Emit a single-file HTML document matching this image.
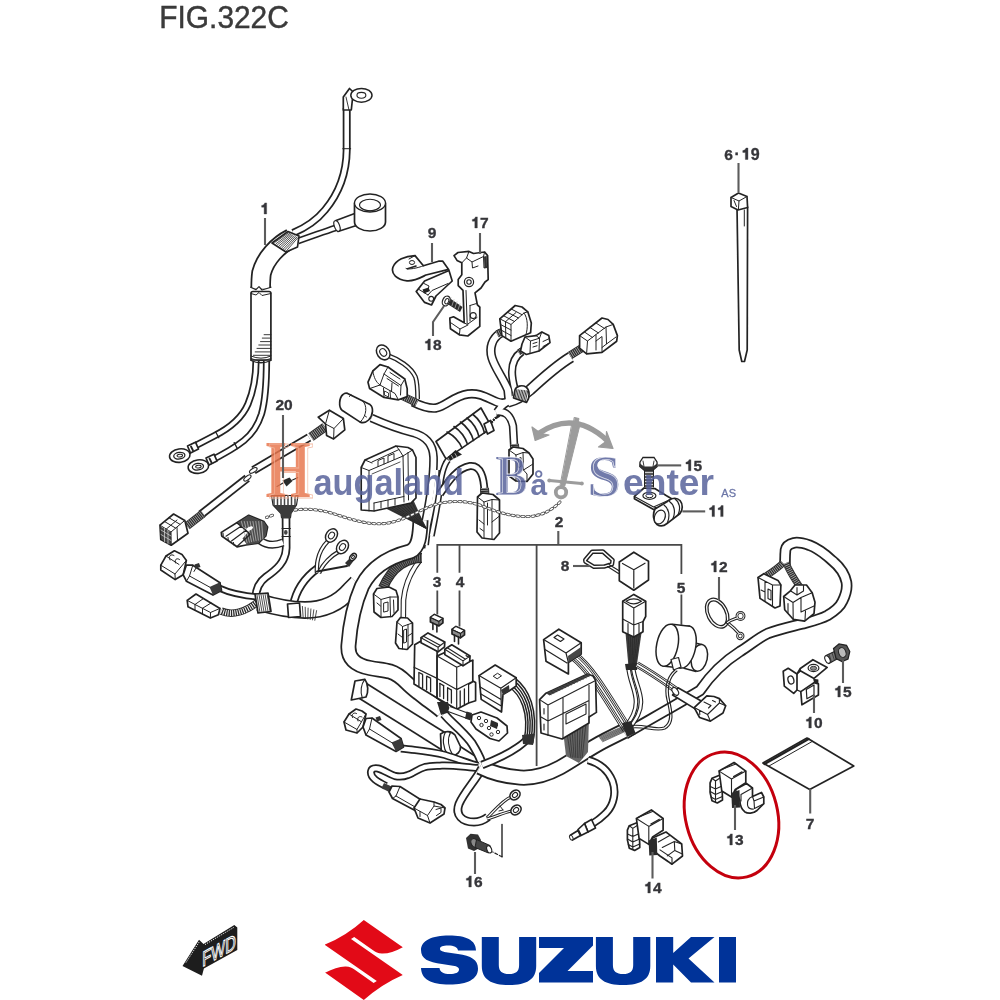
<!DOCTYPE html>
<html><head><meta charset="utf-8"><title>FIG.322C</title>
<style>
html,body{margin:0;padding:0;background:#fff;}
body{width:1000px;height:1000px;overflow:hidden;font-family:"Liberation Sans",sans-serif;}
svg{display:block}
.lb{font-family:"Liberation Sans",sans-serif;font-weight:bold;fill:#36363a;stroke:#36363a;stroke-width:0.35px;}
</style></head><body>
<svg width="1000" height="1000" viewBox="0 0 1000 1000">
<defs><filter id="soft" filterUnits="userSpaceOnUse" x="0" y="0" width="1000" height="1000"><feGaussianBlur stdDeviation="0.45"/></filter>
<filter id="soft2" filterUnits="userSpaceOnUse" x="0" y="0" width="1000" height="1000"><feGaussianBlur stdDeviation="0.35"/></filter></defs>
<rect width="1000" height="1000" fill="#fff"/>
<g filter="url(#soft)">
<path d="M436,441.5 L481,408 L492,427.6 L446,458.9 Z" fill="#fff" stroke="#242424" stroke-width="1.7" stroke-linejoin="round" stroke-linecap="round" />
<path d="M447,432 Q457.7,437.8 462,448" fill="none" stroke="#242424" stroke-width="1.6" stroke-linecap="round" stroke-linejoin="round" />
<path d="M454,426.5 Q463.9,433.2 467.5,444.3" fill="none" stroke="#242424" stroke-width="1.6" stroke-linecap="round" stroke-linejoin="round" />
<path d="M460.5,422 Q470.2,429.1 473.5,440.5" fill="none" stroke="#242424" stroke-width="1.6" stroke-linecap="round" stroke-linejoin="round" />
<path d="M467,418 Q476.2,425.2 479,436.8" fill="none" stroke="#242424" stroke-width="1.6" stroke-linecap="round" stroke-linejoin="round" />
<path d="M473,414.5 Q481.9,421.6 484.5,433" fill="none" stroke="#242424" stroke-width="1.6" stroke-linecap="round" stroke-linejoin="round" />
<path d="M484,424 L490.5,420.5 L494,430.5 L487.5,434 Z" fill="#fff" stroke="#242424" stroke-width="1.7" stroke-linejoin="round" stroke-linecap="round" />
<path d="M491.5,422.5 L495,418.5 L499,416" fill="none" stroke="#242424" stroke-width="2.4" stroke-linecap="round" stroke-linejoin="round" />
<path d="M492,420 L494.5,422.5 M494,418 L496.5,420.5" fill="none" stroke="#fff" stroke-width="0.9" stroke-linecap="round" stroke-linejoin="round" />
<path d="M455.5,450 L462,454.5 L455,458 L444.5,464 L443,461.5 Z" fill="#222"/>
<path d="M448,458 L450,461.5 M451.5,455.5 L453.5,459 M455,453.5 L457,457" fill="none" stroke="#ccc" stroke-width="0.8" stroke-linecap="round" stroke-linejoin="round" />
<path d="M501,333 C492,338 489,348 492,358 C495,368 503,378 508,390 L509,400" fill="none" stroke="#242424" stroke-width="9.4" stroke-linecap="butt" stroke-linejoin="round"/>
<path d="M522,351.5 C514,357 512,364 512,372 C512,380 514,386 515.5,392 L515,400" fill="none" stroke="#242424" stroke-width="8.2" stroke-linecap="butt" stroke-linejoin="round"/>
<path d="M571,357 C556,366 543,378 530,390 C523,396 516,400 508,402" fill="none" stroke="#242424" stroke-width="11.5" stroke-linecap="butt" stroke-linejoin="round"/>
<path d="M496,412 C505,410.5 510.5,415 513,426 L514.2,447" fill="none" stroke="#242424" stroke-width="8.4" stroke-linecap="butt" stroke-linejoin="round"/>
<path d="M413,402 C421,406 428,409 436,408 C446,406 454,396 468,394 C480,392.5 487,398 497,402 C502,404 506,403 510,401" fill="none" stroke="#242424" stroke-width="9.4" stroke-linecap="butt" stroke-linejoin="round"/>
<path d="M508,401 L500,408 L497,412" fill="none" stroke="#242424" stroke-width="8.4" stroke-linecap="butt" stroke-linejoin="round"/>
<path d="M501,333 C492,338 489,348 492,358 C495,368 503,378 508,390 L509,400" fill="none" stroke="#fff" stroke-width="6.2" stroke-linecap="butt" stroke-linejoin="round"/>
<path d="M522,351.5 C514,357 512,364 512,372 C512,380 514,386 515.5,392 L515,400" fill="none" stroke="#fff" stroke-width="4.999999999999999" stroke-linecap="butt" stroke-linejoin="round"/>
<path d="M571,357 C556,366 543,378 530,390 C523,396 516,400 508,402" fill="none" stroke="#fff" stroke-width="8.3" stroke-linecap="butt" stroke-linejoin="round"/>
<path d="M496,412 C505,410.5 510.5,415 513,426 L514.2,447" fill="none" stroke="#fff" stroke-width="5.2" stroke-linecap="butt" stroke-linejoin="round"/>
<path d="M413,402 C421,406 428,409 436,408 C446,406 454,396 468,394 C480,392.5 487,398 497,402 C502,404 506,403 510,401" fill="none" stroke="#fff" stroke-width="6.2" stroke-linecap="butt" stroke-linejoin="round"/>
<path d="M508,401 L500,408 L497,412" fill="none" stroke="#fff" stroke-width="5.2" stroke-linecap="butt" stroke-linejoin="round"/>
<path d="M515,390 C516,386 522,384.5 526,387 C530,390 530,398 526.5,402.5 L513.5,398 Z" fill="#fff" stroke="#242424" stroke-width="1.7" stroke-linejoin="round" stroke-linecap="round" />
<path d="M516.8,389.6 L515.2,397.8 M518.3,389.8 L516.7,398.3 M519.9,390.0 L518.1,398.9 M521.5,390.2 L519.5,399.5 M523.0,390.3 L521.0,400.0 M524.6,390.5 L522.4,400.6 M526.2,390.7 L523.8,401.2 M527.7,390.9 L525.3,401.7 " fill="none" stroke="#242424" stroke-width="0.9" stroke-linecap="round" stroke-linejoin="round" />
<path d="M388,355.5 C398,359 411,367 415.5,377 C417.5,383 417.6,390 417.6,399" fill="none" stroke="#242424" stroke-width="4.8" stroke-linecap="butt" stroke-linejoin="round"/>
<path d="M388,355.5 C398,359 411,367 415.5,377 C417.5,383 417.6,390 417.6,399" fill="none" stroke="#fff" stroke-width="2.1999999999999997" stroke-linecap="butt" stroke-linejoin="round"/>
<g transform="rotate(-35 383.2 352.4)"><ellipse cx="383.2" cy="352.4" rx="6.2" ry="8" fill="#fff" stroke="#242424" stroke-width="1.5"/><ellipse cx="383.2" cy="352.4" rx="3.10" ry="4.00" fill="#fff" stroke="#242424" stroke-width="1.1"/></g>
<path d="M448,460 C443,466 441,476 439.5,490 C438,505 434.5,520 431.5,536" fill="none" stroke="#242424" stroke-width="6.6" stroke-linecap="butt" stroke-linejoin="round"/>
<path d="M371.5,418 C385,424 398,429 412,432.5 C426,436 433,444 433.5,457 C434,475 430,500 425.5,522 C424,532 422,540 421,548" fill="none" stroke="#242424" stroke-width="8.8" stroke-linecap="butt" stroke-linejoin="round"/>
<path d="M437,470 C436.5,485 433,505 428.5,525 L426,545" fill="none" stroke="#242424" stroke-width="6" stroke-linecap="butt" stroke-linejoin="round"/>
<path d="M448,460 C443,466 441,476 439.5,490 C438,505 434.5,520 431.5,536" fill="none" stroke="#fff" stroke-width="3.3999999999999995" stroke-linecap="butt" stroke-linejoin="round"/>
<path d="M371.5,418 C385,424 398,429 412,432.5 C426,436 433,444 433.5,457 C434,475 430,500 425.5,522 C424,532 422,540 421,548" fill="none" stroke="#fff" stroke-width="5.6000000000000005" stroke-linecap="butt" stroke-linejoin="round"/>
<path d="M437,470 C436.5,485 433,505 428.5,525 L426,545" fill="none" stroke="#fff" stroke-width="2.8" stroke-linecap="butt" stroke-linejoin="round"/>
<path d="M440,494 C448,482 457,468 470,466 C481,465 484,478 484.5,492" fill="none" stroke="#242424" stroke-width="8" stroke-linecap="butt" stroke-linejoin="round"/>
<path d="M440,494 C448,482 457,468 470,466 C481,465 484,478 484.5,492" fill="none" stroke="#fff" stroke-width="4.5" stroke-linecap="butt" stroke-linejoin="round"/>
<path d="M201,514.5 L247.2,478.2" fill="none" stroke="#242424" stroke-width="8.6" stroke-linecap="butt" stroke-linejoin="round"/>
<path d="M201,514.5 L247.2,478.2" fill="none" stroke="#fff" stroke-width="5.1" stroke-linecap="butt" stroke-linejoin="round"/>
<path d="M253.5,470.3 L309,437.5" fill="none" stroke="#242424" stroke-width="8.6" stroke-linecap="butt" stroke-linejoin="round"/>
<path d="M253.5,470.3 L309,437.5" fill="none" stroke="#fff" stroke-width="5.1" stroke-linecap="butt" stroke-linejoin="round"/>
<ellipse cx="247.4" cy="478" rx="1.9" ry="4.3" transform="rotate(52 247.4 478)" fill="#fff" stroke="#242424" stroke-width="1.1"/>
<ellipse cx="253.3" cy="470.4" rx="1.9" ry="4.3" transform="rotate(58 253.3 470.4)" fill="#fff" stroke="#242424" stroke-width="1.1"/>
<path d="M286,512 L286.2,548 C286,562 276,570 266,577 C259,582 256,590 255.5,598" fill="none" stroke="#242424" stroke-width="8.6" stroke-linecap="butt" stroke-linejoin="round"/>
<path d="M286,512 L286.2,548 C286,562 276,570 266,577 C259,582 256,590 255.5,598" fill="none" stroke="#fff" stroke-width="5.1" stroke-linecap="butt" stroke-linejoin="round"/>
<path d="M282,528.5 H290.4 M282,536.5 H290.4" fill="none" stroke="#242424" stroke-width="1.1" stroke-linecap="round" stroke-linejoin="round" />
<ellipse cx="285.8" cy="532.4" rx="1.8" ry="2.4" fill="#444"/>
<path d="M260,540.5 C266,545 274,546 283,542.5" fill="none" stroke="#242424" stroke-width="8" stroke-linecap="butt" stroke-linejoin="round"/>
<path d="M260,540.5 C266,545 274,546 283,542.5" fill="none" stroke="#fff" stroke-width="5.2" stroke-linecap="butt" stroke-linejoin="round"/>
<path d="M219,588 C232,594 245,596 258,597" fill="none" stroke="#242424" stroke-width="7" stroke-linecap="butt" stroke-linejoin="round"/>
<path d="M219,588 C232,594 245,596 258,597" fill="none" stroke="#fff" stroke-width="3.5" stroke-linecap="butt" stroke-linejoin="round"/>
<path d="M221,611 C232,616 246,612 259,601" fill="none" stroke="#2b2b2b" stroke-width="7.5"/>
<path d="M221,611 C232,616 246,612 259,601" fill="none" stroke="#fff" stroke-width="5.6" stroke-dasharray="1 1.3"/>
<path d="M293,606 C296,590 304,578 318,568" fill="none" stroke="#242424" stroke-width="8.4" stroke-linecap="butt" stroke-linejoin="round"/>
<path d="M293,606 C296,590 304,578 318,568" fill="none" stroke="#fff" stroke-width="4.9" stroke-linecap="butt" stroke-linejoin="round"/>
<path d="M317,573 C316,560 320,549 328,541" fill="none" stroke="#242424" stroke-width="4.4" stroke-linecap="butt" stroke-linejoin="round"/>
<path d="M317,573 C316,560 320,549 328,541" fill="none" stroke="#fff" stroke-width="2.0000000000000004" stroke-linecap="butt" stroke-linejoin="round"/>
<path d="M319,573 C323,564 331,556 339,551.5" fill="none" stroke="#242424" stroke-width="4.4" stroke-linecap="butt" stroke-linejoin="round"/>
<path d="M319,573 C323,564 331,556 339,551.5" fill="none" stroke="#fff" stroke-width="2.0000000000000004" stroke-linecap="butt" stroke-linejoin="round"/>
<path d="M317,571.5 L347,566" fill="none" stroke="#242424" stroke-width="2.2" stroke-linecap="round" stroke-linejoin="round" />
<g transform="rotate(35 331.5 535.5)"><ellipse cx="331.5" cy="535.5" rx="5.4" ry="7.2" fill="#fff" stroke="#242424" stroke-width="1.5"/><ellipse cx="331.5" cy="535.5" rx="2.70" ry="3.60" fill="#fff" stroke="#242424" stroke-width="1.1"/></g>
<g transform="rotate(35 342.5 547)"><ellipse cx="342.5" cy="547" rx="5.4" ry="7.2" fill="#fff" stroke="#242424" stroke-width="1.5"/><ellipse cx="342.5" cy="547" rx="2.70" ry="3.60" fill="#fff" stroke="#242424" stroke-width="1.1"/></g>
<path d="M345,563 L352,556 L355,559 L349,567 Z" fill="#333"/>
<g transform="rotate(40 353 557)"><ellipse cx="353" cy="557" rx="2.6" ry="4" fill="#fff" stroke="#242424" stroke-width="1.5"/><ellipse cx="353" cy="557" rx="1.17" ry="1.80" fill="#fff" stroke="#242424" stroke-width="1.1"/></g>
<path d="M259,602 C272,606 288,610 305,610 C322,610 338,604 350,590 L357,583" fill="none" stroke="#242424" stroke-width="18" stroke-linecap="butt" stroke-linejoin="round"/>
<path d="M259,602 C272,606 288,610 305,610 C322,610 338,604 350,590 L357,583" fill="none" stroke="#fff" stroke-width="14.5" stroke-linecap="butt" stroke-linejoin="round"/>
<path d="M255,594 L268,593 L271,611.5 L258,613 Z" fill="#fff" stroke="#242424" stroke-width="1.7" stroke-linejoin="round" stroke-linecap="round" />
<path d="M257.0,594.9 L260.0,612.4 M259.0,594.6 L262.0,612.1 M261.0,594.4 L264.0,611.9 M263.0,594.1 L266.0,611.6 M265.0,593.9 L268.0,611.4 M267.0,593.6 L270.0,611.1 " fill="none" stroke="#242424" stroke-width="0.8" stroke-linecap="round" stroke-linejoin="round" />
<path d="M287.5,604 L299.5,603 L300.5,616.5 L288.5,617.5 Z" fill="#fff" stroke="#242424" stroke-width="1.7" stroke-linejoin="round" stroke-linecap="round" />
<path d="M302.4,606.4 L303.2,618.2 M305.2,607.2 L305.5,618.6 M308.1,608.1 L307.8,619.0 M310.9,608.9 L310.2,619.5 M313.8,609.8 L312.5,619.9 M316.6,610.6 L314.8,620.3 " fill="none" stroke="#242424" stroke-width="0.8" stroke-linecap="round" stroke-linejoin="round" />
<path d="M420,560 C412,570 405,584 403.5,600 L403.3,618" fill="none" stroke="#242424" stroke-width="5.6" stroke-linecap="butt" stroke-linejoin="round"/>
<path d="M420,560 C412,570 405,584 403.5,600 L403.3,618" fill="none" stroke="#fff" stroke-width="3.3999999999999995" stroke-linecap="butt" stroke-linejoin="round"/>
<path d="M422,558 C408,558 392,566 383,588" fill="none" stroke="#2b2b2b" stroke-width="10"/>
<path d="M422,558 C408,558 392,566 383,588" fill="none" stroke="#777" stroke-width="7.6" stroke-dasharray="0.9 1.1"/>
<path d="M450,746 L479,764.5" fill="none" stroke="#242424" stroke-width="12" stroke-linecap="butt" stroke-linejoin="round"/>
<path d="M450,746 L479,764.5" fill="none" stroke="#fff" stroke-width="8.5" stroke-linecap="butt" stroke-linejoin="round"/>
<path d="M359,688.5 L447,743.5" fill="none" stroke="#242424" stroke-width="18" stroke-linecap="butt" stroke-linejoin="round"/>
<path d="M359,688.5 L447,743.5" fill="none" stroke="#fff" stroke-width="14.5" stroke-linecap="butt" stroke-linejoin="round"/>
<path d="M355,681 L364.8,679.3 C368.5,684 368.5,692.5 366,697 L351.3,700 Z" fill="#fff" stroke="#242424" stroke-width="1.7" stroke-linejoin="round" stroke-linecap="round" />
<path d="M364.8,679.3 C361,684 360,692 362.3,698" fill="none" stroke="#242424" stroke-width="1.1" stroke-linecap="round" stroke-linejoin="round" />
<path d="M440.5,734 C445,730.5 451.5,731 455,735 L460.5,746.5 C461,751.5 457,755.5 452,756 C447,756.5 443,753.5 441.2,749.5 Z" fill="#fff" stroke="#242424" stroke-width="1.7" stroke-linejoin="round" stroke-linecap="round" />
<path d="M445.5,732 C442,738.5 442.8,747.5 447.8,755 M450.7,732 C447.2,738.5 448,747.5 453,755.5" fill="none" stroke="#242424" stroke-width="1.2" stroke-linecap="round" stroke-linejoin="round" />
<path d="M444,714 C450,721 455,725 459,729 C465,735 469,739 472,743.5 C476,750 479,755 481,761" fill="none" stroke="#242424" stroke-width="9.5" stroke-linecap="butt" stroke-linejoin="round"/>
<path d="M444,714 C450,721 455,725 459,729 C465,735 469,739 472,743.5 C476,750 479,755 481,761" fill="none" stroke="#fff" stroke-width="6.0" stroke-linecap="butt" stroke-linejoin="round"/>
<path d="M420.5,520 C420,535 419,548 410,551.5 C392,556 372,566 362,586 C355,602 350,625 348.5,645 C347.5,658 355,665 370,668 C378,669.5 384,670 390,671.5 C397,673.5 402,678 407,683 C413,689 419,693.5 425,698 C431,702.5 436,706 442,711" fill="none" stroke="#242424" stroke-width="16" stroke-linecap="butt" stroke-linejoin="round"/>
<path d="M420.5,520 C420,535 419,548 410,551.5 C392,556 372,566 362,586 C355,602 350,625 348.5,645 C347.5,658 355,665 370,668 C378,669.5 384,670 390,671.5 C397,673.5 402,678 407,683 C413,689 419,693.5 425,698 C431,702.5 436,706 442,711" fill="none" stroke="#fff" stroke-width="12.5" stroke-linecap="butt" stroke-linejoin="round"/>
<path d="M401,748.5 C415,750 430,751 445,755 C458,759 468,763 478,766" fill="none" stroke="#242424" stroke-width="8" stroke-linecap="butt" stroke-linejoin="round"/>
<path d="M401,748.5 C415,750 430,751 445,755 C458,759 468,763 478,766" fill="none" stroke="#fff" stroke-width="4.5" stroke-linecap="butt" stroke-linejoin="round"/>
<path d="M478,768 C465,767 452,765 442,765.5 C434,766 430,766 425,767 C418,769 414,773 408,775 C403,777 399,777 395,776 C389,774 384,770 378,768.5 C374,768 371.5,769 371,771.5 C370.5,775 372,777 375,779.5 C378,782 381,783.5 386,786" fill="none" stroke="#242424" stroke-width="8" stroke-linecap="butt" stroke-linejoin="round"/>
<path d="M478,768 C465,767 452,765 442,765.5 C434,766 430,766 425,767 C418,769 414,773 408,775 C403,777 399,777 395,776 C389,774 384,770 378,768.5 C374,768 371.5,769 371,771.5 C370.5,775 372,777 375,779.5 C378,782 381,783.5 386,786" fill="none" stroke="#fff" stroke-width="4.5" stroke-linecap="butt" stroke-linejoin="round"/>
<path d="M482,768 C476,780 464,792 459,804 C455,815 462,822 474,822 C480,822 484,820 488,817" fill="none" stroke="#242424" stroke-width="9" stroke-linecap="butt" stroke-linejoin="round"/>
<path d="M482,768 C476,780 464,792 459,804 C455,815 462,822 474,822 C480,822 484,820 488,817" fill="none" stroke="#fff" stroke-width="5.5" stroke-linecap="butt" stroke-linejoin="round"/>
<path d="M487,818 C495,810 503,800 511,797" fill="none" stroke="#242424" stroke-width="3.2" stroke-linecap="butt" stroke-linejoin="round"/>
<path d="M487,818 C495,810 503,800 511,797" fill="none" stroke="#fff" stroke-width="1.2000000000000002" stroke-linecap="butt" stroke-linejoin="round"/>
<path d="M487,819 C497,816 505,812 512,811" fill="none" stroke="#242424" stroke-width="3.2" stroke-linecap="butt" stroke-linejoin="round"/>
<path d="M487,819 C497,816 505,812 512,811" fill="none" stroke="#fff" stroke-width="1.2000000000000002" stroke-linecap="butt" stroke-linejoin="round"/>
<g transform="rotate(50 515 795)"><ellipse cx="515" cy="795" rx="4.4" ry="5.6" fill="#fff" stroke="#242424" stroke-width="1.5"/><ellipse cx="515" cy="795" rx="2.20" ry="2.80" fill="#fff" stroke="#242424" stroke-width="1.1"/></g>
<g transform="rotate(50 516 810)"><ellipse cx="516" cy="810" rx="4.4" ry="5.6" fill="#fff" stroke="#242424" stroke-width="1.5"/><ellipse cx="516" cy="810" rx="2.20" ry="2.80" fill="#fff" stroke="#242424" stroke-width="1.1"/></g>
<path d="M480,767 C490,772 505,776.5 520,777.5 C535,778.5 548,774 560,767.5 C575,759 590,748 606,740 L632,727" fill="none" stroke="#242424" stroke-width="16" stroke-linecap="butt" stroke-linejoin="round"/>
<path d="M480,767 C490,772 505,776.5 520,777.5 C535,778.5 548,774 560,767.5 C575,759 590,748 606,740 L632,727" fill="none" stroke="#fff" stroke-width="12.5" stroke-linecap="butt" stroke-linejoin="round"/>
<path d="M482,765 C495,760 508,754 518,747 C523,743.5 526,741 528,738" fill="none" stroke="#242424" stroke-width="8.4" stroke-linecap="butt" stroke-linejoin="round"/>
<path d="M482,765 C495,760 508,754 518,747 C523,743.5 526,741 528,738" fill="none" stroke="#fff" stroke-width="4.9" stroke-linecap="butt" stroke-linejoin="round"/>
<path d="M625,734 C650,719.5 675,705.5 700,690.5 C712,673 725,661 740,651.5 C750,645.5 758,638 767.5,633.6 C780,629 790,627 801.7,624 C811,621.5 820,619.5 827.4,615.5 C835,611 840,607 842.6,601 C846,594 847.5,588 846.4,582 C844.5,573 839,566 832,560.4 C825,554 818,548.5 809.4,545.2 C803,543 798,542 794,542.8 C789,544 786,547 785.5,550 C785,555 785,560 785,565" fill="none" stroke="#242424" stroke-width="11.5" stroke-linecap="butt" stroke-linejoin="round"/>
<path d="M625,734 C650,719.5 675,705.5 700,690.5 C712,673 725,661 740,651.5 C750,645.5 758,638 767.5,633.6 C780,629 790,627 801.7,624 C811,621.5 820,619.5 827.4,615.5 C835,611 840,607 842.6,601 C846,594 847.5,588 846.4,582 C844.5,573 839,566 832,560.4 C825,554 818,548.5 809.4,545.2 C803,543 798,542 794,542.8 C789,544 786,547 785.5,550 C785,555 785,560 785,565" fill="none" stroke="#fff" stroke-width="8.0" stroke-linecap="butt" stroke-linejoin="round"/>
<path d="M588,760 C599,763 608,770 612.5,781 C616.5,792 614,805 606,813 C602,817 597,821 592,824" fill="none" stroke="#242424" stroke-width="8.2" stroke-linecap="butt" stroke-linejoin="round"/>
<path d="M588,760 C599,763 608,770 612.5,781 C616.5,792 614,805 606,813 C602,817 597,821 592,824" fill="none" stroke="#fff" stroke-width="4.699999999999999" stroke-linecap="butt" stroke-linejoin="round"/>
<path d="M497,334 L503,331" fill="none" stroke="#2b2b2b" stroke-width="7"/>
<path d="M497,334 L503,331" fill="none" stroke="#aaa" stroke-width="5.4" stroke-dasharray="0.8 1.2"/>
<path d="M499.8,318.8 L515.2,305.5 L522,307 L527.8,311.8 L531.3,323 L530.6,332.8 L511,341.2 L501.9,335.6 Z" fill="#fff" stroke="#242424" stroke-width="1.7" stroke-linejoin="round" stroke-linecap="round" />
<path d="M499.8,318.8 L511,324.5 L511,341.2 M511,324.5 L524,313 L527.8,311.8 M503.5,315.7 L514.5,321.5 M507.5,312.3 L518.5,318 M511.3,309 L522,314.7 M505.5,321.7 L516,312.5 M500.5,324.5 L511,330 M501,330 L511,335.5 M505.5,321.7 L505.8,338 M524,313 C528,318 528,328 526,334.5" fill="none" stroke="#242424" stroke-width="1" stroke-linecap="round" stroke-linejoin="round" />
<path d="M518.5,352.5 L524,349" fill="none" stroke="#2b2b2b" stroke-width="6"/>
<path d="M518.5,352.5 L524,349" fill="none" stroke="#aaa" stroke-width="4.4" stroke-dasharray="0.8 1.2"/>
<path d="M522,344 L525,337 L536,335.6 L541.8,332 L548.8,335.6 L550,342.6 L539,351 L526.4,354.5 L520.5,351 Z" fill="#fff" stroke="#242424" stroke-width="1.7" stroke-linejoin="round" stroke-linecap="round" />
<path d="M525,337 L530.5,341 L530,353.3 M530.5,341 L539.5,338.2 L539,351 M539.5,338.2 L541.8,332 M536,335.6 L539.5,338.2 M543,341.5 L549.5,338.5 M543,346.5 L548,343.8 M533,343.5 L537,342.3 M533,347 L537,345.8" fill="none" stroke="#242424" stroke-width="1" stroke-linecap="round" stroke-linejoin="round" />
<path d="M570,355.5 L582,348" fill="none" stroke="#2b2b2b" stroke-width="8"/>
<path d="M570,355.5 L582,348" fill="none" stroke="#aaa" stroke-width="6.4" stroke-dasharray="0.8 1.2"/>
<path d="M579.6,335.6 L602,318 L608,319.5 L613.2,324.4 L617.4,335.6 L616.7,341.2 L602,352.4 L586.6,353.8 L579.6,348.2 Z" fill="#fff" stroke="#242424" stroke-width="1.7" stroke-linejoin="round" stroke-linecap="round" />
<path d="M579.6,335.6 L587.5,341 L586.6,353.8 M587.5,341 L596,334.5 L596,350 M596,334.5 L606,327 L613.2,324.4 M584.5,332 L592.5,337.5 M590,327.5 L598.5,333 M596,323 L604.5,328.5 M606,327 L606.5,344 L616,337 M596,341 L602,336.5 L602,352.4 M606.5,344 L602,347.5" fill="none" stroke="#242424" stroke-width="1" stroke-linecap="round" stroke-linejoin="round" />
<path d="M398,394 L417,403" fill="none" stroke="#2b2b2b" stroke-width="8"/>
<path d="M398,394 L417,403" fill="none" stroke="#aaa" stroke-width="6.4" stroke-dasharray="0.8 1.2"/>
<path d="M368,382.2 L372.8,371 L380,364.6 L388,367 L404.8,379 L407.2,388.6 L407.2,396.6 L398.4,399.8 L384,397.4 L369.6,388.6 Z" fill="#fff" stroke="#242424" stroke-width="1.7" stroke-linejoin="round" stroke-linecap="round" />
<path d="M372.8,371 C374,378 376,382 380,385 L395,393.5 L398.4,399.8 M380,385 L384,374 L388,367 M384,374 L401,385.5 L404.8,379 M401,385.5 L400.5,395 M387,378.5 L398.5,386 M390,372.5 L400,379 M383.5,388 L384,397.4 M390,390.8 L390.5,398.4 M369.6,388.6 L380,385 M392,383 L391.5,391.5" fill="none" stroke="#242424" stroke-width="1" stroke-linecap="round" stroke-linejoin="round" />
<path d="M384.5,391 L388.5,393 L388.5,397 L384.5,395 Z" fill="#fff" stroke="#2b2b2b" stroke-width="0.9"/>
<path d="M347.6,393.4 L370,404.6 C373.5,407 373.5,415 368.6,420 C366,422.5 362.5,423 360.2,422.1 L342,410.2 C338.5,407 339,398 343,394.5 C344.5,393 346,392.8 347.6,393.4 Z" fill="#fff" stroke="#242424" stroke-width="1.7" stroke-linejoin="round" stroke-linecap="round" />
<path d="M363,401.5 C367,405 367.5,415 360.2,422.1 M349.5,396.5 L351,394.5 M364.5,415.5 L366.5,417" fill="none" stroke="#242424" stroke-width="1" stroke-linecap="round" stroke-linejoin="round" />
<path d="M311,437 L325,427" fill="none" stroke="#2b2b2b" stroke-width="9"/>
<path d="M311,437 L325,427" fill="none" stroke="#aaa" stroke-width="7.4" stroke-dasharray="0.8 1.2"/>
<path d="M318.2,417.2 L329.4,410.2 L343.4,418.6 L344.8,429.8 L333.6,438.9 L326.6,435.4 L325.5,424 Z" fill="#fff" stroke="#242424" stroke-width="1.7" stroke-linejoin="round" stroke-linecap="round" />
<path d="M329.4,410.2 L325.5,424 M325.5,424 L334,428.5 L333.6,438.9 M334,428.5 L343.4,418.6" fill="none" stroke="#242424" stroke-width="1" stroke-linecap="round" stroke-linejoin="round" />
<path d="M514.5,444 L515,451" fill="none" stroke="#2b2b2b" stroke-width="9"/>
<path d="M514.5,444 L515,451" fill="none" stroke="#aaa" stroke-width="7.4" stroke-dasharray="0.8 1.2"/>
<path d="M509,450 L513,447 L523,448.5 L529,453 L533,459 L533,474 L527,481.5 L516,481 L509,476 Z" fill="#fff" stroke="#242424" stroke-width="1.7" stroke-linejoin="round" stroke-linecap="round" />
<path d="M509,450 L516,455 L516,481 M516,455 L523,452.5 L529,453 M523,452.5 L523.5,470 L533,464 M518.5,458.5 L521,457.5 L521,466.5 L518.5,467.5 Z M523.5,470 L527,474 L527,481.5" fill="none" stroke="#242424" stroke-width="1" stroke-linecap="round" stroke-linejoin="round" />
<path d="M484.5,488 L485,497" fill="none" stroke="#2b2b2b" stroke-width="9"/>
<path d="M484.5,488 L485,497" fill="none" stroke="#aaa" stroke-width="7.4" stroke-dasharray="0.8 1.2"/>
<path d="M477.5,497 L482,493 L493,494.5 L499.5,500 L499.5,533 L494,539.5 L482,538 L477,532 Z" fill="#fff" stroke="#242424" stroke-width="1.7" stroke-linejoin="round" stroke-linecap="round" />
<path d="M477.5,497 L484,502 L484,538 M484,502 L492,499.5 L499.5,500 M492,499.5 L492,538.5 M487.5,503 L487.5,525 M479,520 L484,524 M492,522 L499.5,516 M480,528.5 L483.5,531" fill="none" stroke="#242424" stroke-width="1" stroke-linecap="round" stroke-linejoin="round" />
<path d="M375,503 L412,497 L426.5,529 Z" fill="#3a3a3a"/>
<path d="M377.9,502.7 L425.1,528.0 M381.8,502.1 L425.2,528.0 M385.7,501.5 L425.4,528.0 M389.6,500.9 L425.6,528.0 M393.5,500.2 L425.8,528.0 M397.4,499.6 L425.9,528.0 M401.3,499.0 L426.1,528.0 M405.2,498.4 L426.2,528.0 M409.1,497.8 L426.4,528.0 " fill="none" stroke="#242424" stroke-width="0.7" stroke-linecap="round" stroke-linejoin="round" />
<path d="M361.2,467.5 L365,460 L396,446 L408,447.5 L412.5,450 L416,457.5 L416,498 L411,503 L374,511 L361.2,510 Z" fill="#fff" stroke="#242424" stroke-width="1.7" stroke-linejoin="round" stroke-linecap="round" />
<path d="M361.2,467.5 L369,470.5 L403,456 L412.5,450 M369,470.5 L369,511 M403,456 L404,502 M365,460 L372,463 M396,446 L399,449.5 L372,462 M378,466.5 L378,460.5 L384,458 L384,464 M388,462 L388,456 L394,453.5 L394,459.5 M399,449.5 L403,456 M374,503 L374,511 M374,503 L404,496.5 M381,501.5 L381,508 M388,500 L388,506.5 M395,498.5 L395,505 M408,452.5 L408.5,500" fill="none" stroke="#242424" stroke-width="1" stroke-linecap="round" stroke-linejoin="round" />
<path d="M372,474 L400,462" fill="none" stroke="#242424" stroke-width="0.8" stroke-linecap="round" stroke-linejoin="round" />
<path d="M187,526 L203,513.5" fill="none" stroke="#2b2b2b" stroke-width="8.5"/>
<path d="M187,526 L203,513.5" fill="none" stroke="#aaa" stroke-width="6.9" stroke-dasharray="0.8 1.2"/>
<path d="M160,525.2 L173.6,514 L184.8,520.4 L188,533.2 L171.2,545.2 L160.8,539.6 Z" fill="#fff" stroke="#242424" stroke-width="1.7" stroke-linejoin="round" stroke-linecap="round" />
<path d="M160.6,526.5 L171,532.5 L171.2,544.5 L161,539 Z" fill="#444"/>
<path d="M160,525.2 L171,532 L171.2,545.2 M171,532 L184.8,520.4 M164.5,521.5 L175.5,528 M169,517.8 L180,524.3 M166,529.3 L177,520 M177,527.5 L177.5,540.5" fill="none" stroke="#242424" stroke-width="1" stroke-linecap="round" stroke-linejoin="round" />
<path d="M161,530 L171,536 M161,534.5 L171,540.5 M164.5,528.5 V541.5 M168,530.5 V543.5" fill="none" stroke="#ddd" stroke-width="0.7" stroke-linecap="round" stroke-linejoin="round" />
<path d="M221.3,532.4 L248.7,515.3 L264,521.6 L267.6,527 L265.8,536 L258.6,543.2 L246,545 L237,546.8 L221.7,536 Z" fill="#fff" stroke="#242424" stroke-width="1.7" stroke-linejoin="round" stroke-linecap="round" />
<path d="M236.5,523.2 L248.7,515.6 L264,521.9 L267.3,527 L265.6,536 L258.4,543 L247,544.7 L242.5,538.5 L249.5,530.5 Z" fill="#4a4a4a"/>
<path d="M241.4,521.5 L247.1,542.8 M244.3,521.5 L249.4,542.2 M247.2,521.5 L251.6,541.8 M250.1,521.5 L253.9,541.2 M252.9,521.5 L256.1,540.8 M255.8,521.5 L258.4,540.2 M258.7,521.5 L260.6,539.8 M261.6,521.5 L262.9,539.2 " fill="none" stroke="#b5b5b5" stroke-width="0.8" stroke-linecap="round" stroke-linejoin="round" />
<ellipse cx="249.6" cy="528.6" rx="3.6" ry="1.7" transform="rotate(-25 249.6 528.6)" fill="#fff"/>
<path d="M226,536.2 L241,526.3 M231.5,541 L246,530.2 M237,523 L241,526.3 L246,530.2 L250,534.5 L237,546.5" fill="none" stroke="#242424" stroke-width="1.2" stroke-linecap="round" stroke-linejoin="round" />
<path d="M223,533 L223.3,536 M228,537.5 L228.3,540.5 M233.5,542.5 L233.8,545" fill="none" stroke="#242424" stroke-width="1" stroke-linecap="round" stroke-linejoin="round" />
<path d="M271.5,495.5 L298,495.5 L296.5,505 L291,513.5 L290.5,517.5 L281.5,517.5 L281,513.5 L273,505 Z" fill="#fff" stroke="#242424" stroke-width="1.2" stroke-linejoin="round" stroke-linecap="round" />
<path d="M274,496.5 V505" fill="none" stroke="#444" stroke-width="1.5" stroke-linecap="round" stroke-linejoin="round" />
<path d="M277.5,496.5 V508" fill="none" stroke="#444" stroke-width="1.5" stroke-linecap="round" stroke-linejoin="round" />
<path d="M281,496.5 V513" fill="none" stroke="#444" stroke-width="1.5" stroke-linecap="round" stroke-linejoin="round" />
<path d="M284.5,496.5 V513" fill="none" stroke="#444" stroke-width="1.5" stroke-linecap="round" stroke-linejoin="round" />
<path d="M288,496.5 V513" fill="none" stroke="#444" stroke-width="1.5" stroke-linecap="round" stroke-linejoin="round" />
<path d="M291.5,496.5 V508" fill="none" stroke="#444" stroke-width="1.5" stroke-linecap="round" stroke-linejoin="round" />
<path d="M295,496.5 V505" fill="none" stroke="#444" stroke-width="1.5" stroke-linecap="round" stroke-linejoin="round" />
<path d="M273.5,505 L296.5,505 L291,513.5 L290.5,518.5 L281.5,518.5 L281,513.5 Z" fill="#3a3a3a"/>
<path d="M282.5,480.5 L289.5,477.5 L292.5,481 L286.5,486.5 Z" fill="#2b2b2b"/>
<path d="M277,486.5 L283,483 M292.5,480 L298,477.5" fill="none" stroke="#242424" stroke-width="1.1" stroke-linecap="round" stroke-linejoin="round" />
<path d="M160.8,565.2 L166,556 L174.4,550.8 L182,554.5 L186.4,560.4 L183.2,574.8 L175.2,579.6 L160.8,570 Z" fill="#fff" stroke="#242424" stroke-width="1.7" stroke-linejoin="round" stroke-linecap="round" />
<path d="M160.8,565.2 L175,574 L175.2,579.6 M175,574 L186.4,560.4 M166,556 L179,564.5 M170,560 C168,556 171,553.5 174,555.5 M175.5,563 C174,559.5 177,557.5 179.5,559.5" fill="none" stroke="#242424" stroke-width="1" stroke-linecap="round" stroke-linejoin="round" />
<path d="M186.4,565 L192.8,565.2 L220,582.8 L221.5,590.5 L213,595 L186.4,581.2 L183.2,574.8 Z" fill="#fff" stroke="#242424" stroke-width="1.7" stroke-linejoin="round" stroke-linecap="round" />
<path d="M192.8,565.2 L189.5,576 L186.4,581.2 M189.5,576 L214,589.5 L220,582.8 M214,589.5 L213,595 M196,568 L194,571.5" fill="none" stroke="#242424" stroke-width="1" stroke-linecap="round" stroke-linejoin="round" />
<path d="M209.5,587 L219.5,582.5 L221.5,590.5 L213,595 Z" fill="#3a3a3a"/>
<path d="M194.5,564.5 L199,563 L200.5,567 L196,568.5 Z" fill="#333"/>
<path d="M187.2,600.4 L196,594 L220,608.4 L218.4,614.8 L210.4,618 L188,606.8 Z" fill="#fff" stroke="#242424" stroke-width="1.7" stroke-linejoin="round" stroke-linecap="round" />
<path d="M187.2,600.4 L210.5,612.5 L210.4,618 M210.5,612.5 L220,608.4 M195,604.5 L203.5,598.5 M202.5,608.3 L211,603 M195,604.5 L195,610.3 M202.5,608.3 L202.5,614" fill="none" stroke="#242424" stroke-width="1" stroke-linecap="round" stroke-linejoin="round" />
<path d="M373.5,594 L377,588.5 L389,587 L396,590.5 L398,597 L398,610 L392,616.5 L381,617.5 L374,612 Z" fill="#fff" stroke="#242424" stroke-width="1.7" stroke-linejoin="round" stroke-linecap="round" />
<path d="M373.5,594 L381,599.5 L381,617.5 M381,599.5 L390,597 L398,597 M390,597 L390.5,616.8 M377,603 L380.5,606 M384,603 L388,602 L388,611 L384,612 Z M393.5,600 L394,613" fill="none" stroke="#242424" stroke-width="1" stroke-linecap="round" stroke-linejoin="round" />
<path d="M397,622 L400.5,617.5 L407.5,618 L412.5,623 L412.5,644 L407,649.5 L399,648.5 L395.5,643 Z" fill="#fff" stroke="#242424" stroke-width="1.7" stroke-linejoin="round" stroke-linecap="round" />
<path d="M397,622 L402.5,626.5 L402.5,649 M402.5,626.5 L408,624.5 L412.5,623 M408,624.5 L408,649 M398,634 L402.5,637.5 M408,636 L412.5,633 M404,630 L406.5,629 L406.5,642 L404,643 Z" fill="none" stroke="#242424" stroke-width="1" stroke-linecap="round" stroke-linejoin="round" />
<path d="M430.4,617.4 L434.4,614.4 L442.9,618.4 L442.9,622.9 L438.9,625.9 L430.4,621.9 Z" fill="#8a8a8a" stroke="#242424" stroke-width="1.7" stroke-linejoin="round" stroke-linecap="round" />
<path d="M430.4,617.4 L434.4,614.4 L442.9,618.4 L438.9,621.4 Z" fill="#fff" stroke="#242424" stroke-width="1.1" stroke-linejoin="round" stroke-linecap="round" />
<path d="M430.4,617.4 L438.9,621.4 L438.9,625.9 M438.9,621.4 L442.9,618.4" fill="none" stroke="#242424" stroke-width="1" stroke-linecap="round" stroke-linejoin="round" />
<path d="M432.9,623.1999999999999 V629.4 M436.9,625.0 V631.9" fill="none" stroke="#242424" stroke-width="1.6" stroke-linecap="round" stroke-linejoin="round" />
<path d="M452,629.4 L456,626.4 L464.5,630.4 L464.5,634.9 L460.5,637.9 L452,633.9 Z" fill="#8a8a8a" stroke="#242424" stroke-width="1.7" stroke-linejoin="round" stroke-linecap="round" />
<path d="M452,629.4 L456,626.4 L464.5,630.4 L460.5,633.4 Z" fill="#fff" stroke="#242424" stroke-width="1.1" stroke-linejoin="round" stroke-linecap="round" />
<path d="M452,629.4 L460.5,633.4 L460.5,637.9 M460.5,633.4 L464.5,630.4" fill="none" stroke="#242424" stroke-width="1" stroke-linecap="round" stroke-linejoin="round" />
<path d="M454.5,635.1999999999999 V641.4 M458.5,637.0 V643.9" fill="none" stroke="#242424" stroke-width="1.6" stroke-linecap="round" stroke-linejoin="round" />
<path d="M414.7,644.8 L421,641 L437.1,651 L437.1,698 L414,684 Z" fill="#fff" stroke="#242424" stroke-width="1.7" stroke-linejoin="round" stroke-linecap="round" />
<path d="M414,667.2 L437.1,678.4" fill="none" stroke="#242424" stroke-width="1.2" stroke-linecap="round" stroke-linejoin="round" />
<path d="M418.9,673.1 V686.1" fill="none" stroke="#242424" stroke-width="1.3" stroke-linecap="round" stroke-linejoin="round" />
<path d="M422.6,674.9 V687.9" fill="none" stroke="#242424" stroke-width="1.3" stroke-linecap="round" stroke-linejoin="round" />
<path d="M426.6,676.8 V689.8" fill="none" stroke="#242424" stroke-width="1.3" stroke-linecap="round" stroke-linejoin="round" />
<path d="M430.6,678.8 V691.8" fill="none" stroke="#242424" stroke-width="1.3" stroke-linecap="round" stroke-linejoin="round" />
<path d="M418.9,672.5 L422.6,674.3 M426.6,676.2 L430.6,678.2" fill="none" stroke="#242424" stroke-width="1.3" stroke-linecap="round" stroke-linejoin="round" />
<path d="M421,637.8 L428,632.9 L444.8,642 L444.5,646.9 L438.1,651.8 L421,642.7 Z" fill="#fff" stroke="#242424" stroke-width="1.7" stroke-linejoin="round" stroke-linecap="round" />
<path d="M421,637.8 L438.1,647.3 L444.8,642 M438.1,647.3 V651.8 M423.5,636.2 L440.5,645.5" fill="none" stroke="#242424" stroke-width="1.1" stroke-linecap="round" stroke-linejoin="round" />
<path d="M437.1,656 L444.8,652.5 L463,663 L472.8,660.2 L472.8,681 L475.6,682.6 L475.6,700.8 L468.6,703 L456.7,709.2 L437.1,698 Z" fill="#fff" stroke="#242424" stroke-width="1.7" stroke-linejoin="round" stroke-linecap="round" />
<path d="M456.7,667.2 V709.2 M437.1,656 L456.7,667.2 L472.8,660.2 M437.1,678.4 L456.7,689.6 L472.8,681.2 M468.6,684.5 V703 M468.6,684.5 L472.8,682" fill="none" stroke="#242424" stroke-width="1.2" stroke-linecap="round" stroke-linejoin="round" />
<path d="M439.9,683.5 V696.5" fill="none" stroke="#242424" stroke-width="1.3" stroke-linecap="round" stroke-linejoin="round" />
<path d="M443.6,685.6 V698.6" fill="none" stroke="#242424" stroke-width="1.3" stroke-linecap="round" stroke-linejoin="round" />
<path d="M447.6,687.9 V700.9" fill="none" stroke="#242424" stroke-width="1.3" stroke-linecap="round" stroke-linejoin="round" />
<path d="M451.4,690.1 V703.1" fill="none" stroke="#242424" stroke-width="1.3" stroke-linecap="round" stroke-linejoin="round" />
<path d="M439.9,683.5 L443.6,685.6 M447.6,687.9 L451.4,690" fill="none" stroke="#242424" stroke-width="1.3" stroke-linecap="round" stroke-linejoin="round" />
<path d="M460.2,691 V707 M464.4,689 V705" fill="none" stroke="#242424" stroke-width="1.3" stroke-linecap="round" stroke-linejoin="round" />
<path d="M444.8,649.3 L451.8,644.8 L470,656 L469.7,661.6 L463,665.8 L444.8,654.6 Z" fill="#fff" stroke="#242424" stroke-width="1.7" stroke-linejoin="round" stroke-linecap="round" />
<path d="M444.8,649.3 L463,660.9 L470,656 M463,660.9 V665.8 M447.3,647.7 L465.5,659.2 M466,655.5 L468.5,657.5" fill="none" stroke="#242424" stroke-width="1.1" stroke-linecap="round" stroke-linejoin="round" />
<path d="M508.0,686.0 C520.0,694.0 530.0,712.0 524.0,741.0" fill="none" stroke="#242424" stroke-width="1.5" stroke-linecap="round" stroke-linejoin="round" />
<path d="M509.8,684.0 C522.2,692.7 532.2,711.3 526.2,741.4" fill="none" stroke="#242424" stroke-width="1.5" stroke-linecap="round" stroke-linejoin="round" />
<path d="M511.5,682.0 C524.4,691.4 534.4,710.7 528.4,741.9" fill="none" stroke="#242424" stroke-width="1.5" stroke-linecap="round" stroke-linejoin="round" />
<path d="M513.3,680.1 C526.6,690.0 536.6,710.0 530.6,742.3" fill="none" stroke="#242424" stroke-width="1.5" stroke-linecap="round" stroke-linejoin="round" />
<path d="M515.0,678.1 C528.8,688.7 538.8,709.4 532.8,742.8" fill="none" stroke="#242424" stroke-width="1.5" stroke-linecap="round" stroke-linejoin="round" />
<path d="M522,735 L535,733.5 L533,745 L523,744 Z" fill="#333"/>
<path d="M479,675.6 L495.2,665 L516.2,677.7 L516.2,686 L509,691 L503,694.5 L501.5,712 L481.2,699.4 Z" fill="#fff" stroke="#242424" stroke-width="1.7" stroke-linejoin="round" stroke-linecap="round" />
<path d="M479,675.6 L500.8,688.2 L516.2,677.7 M500.8,688.2 L501.5,712 M479.8,686.8 L501,699.4 M481,694 L501.3,706" fill="none" stroke="#242424" stroke-width="1.2" stroke-linecap="round" stroke-linejoin="round" />
<path d="M493.5,676 L497.5,673.3 L501.5,675.8 L497.5,678.6 Z" fill="#fff" stroke="#242424" stroke-width="1" stroke-linejoin="round" stroke-linecap="round" />
<path d="M501,690 L509,685 L509.5,691 L503,695 Z" fill="#333"/>
<path d="M344,722 L349,714 L356,709 L362,711 L366,714 L363,727 L357,733 L346,730 Z" fill="#fff" stroke="#242424" stroke-width="1.7" stroke-linejoin="round" stroke-linecap="round" />
<path d="M344,722 L357,729.5 L357,733 M357,729.5 L366,714 M349,714 L361,721.5 M352.5,717.5 C351,714 354,712 356.5,713.5 M358,721 C356.5,717.5 359.5,715.5 362,717" fill="none" stroke="#242424" stroke-width="1" stroke-linecap="round" stroke-linejoin="round" />
<path d="M366,718.5 L372,718 L401,738.5 L403.5,747 L396,751.5 L366,735 L363,727 Z" fill="#fff" stroke="#242424" stroke-width="1.7" stroke-linejoin="round" stroke-linecap="round" />
<path d="M372,718 L369.5,729 L366,735 M369.5,729 L396.5,745.5 L401,738.5 M396.5,745.5 L396,751.5" fill="none" stroke="#242424" stroke-width="1" stroke-linecap="round" stroke-linejoin="round" />
<path d="M391.5,742.5 L401,738.5 L403.5,747 L396,751.5 Z" fill="#3a3a3a"/>
<path d="M375.5,717.5 L380,716 L381.5,720 L377,721.5 Z" fill="#333"/>
<path d="M384,783 L391.5,786.5 L389,792 L381.5,788 Z" fill="#3a3a3a"/>
<path d="M392,786 L400,786.5 L420.5,799.5 L415,810.5 L392.5,798.5 L389,792 Z" fill="#fff" stroke="#242424" stroke-width="1.7" stroke-linejoin="round" stroke-linecap="round" />
<path d="M400,786.5 L396,796 L392.5,798.5 M396,796 L416,807.5" fill="none" stroke="#242424" stroke-width="1" stroke-linecap="round" stroke-linejoin="round" />
<path d="M414,808 L420,799 L434,802 L441,804.5 L445,808 L444,814 L430,823 L418,818 Z" fill="#fff" stroke="#242424" stroke-width="1.7" stroke-linejoin="round" stroke-linecap="round" />
<path d="M414,808 L427.5,815.5 L430,823 M427.5,815.5 L434,806 L445,808 M434,806 L434,802 M420,811.5 L420,816.5 M436,809.5 L441,808 L441,812.5 L436.5,815.5" fill="none" stroke="#242424" stroke-width="1" stroke-linecap="round" stroke-linejoin="round" />
<path d="M437,702 L448,702 L450,712 L441,715 Z" fill="#2b2b2b"/>
<path d="M449,709 L468,716" fill="none" stroke="#242424" stroke-width="6.5" stroke-linecap="butt" stroke-linejoin="round"/>
<path d="M449,709 L468,716" fill="none" stroke="#fff" stroke-width="4.1" stroke-linecap="butt" stroke-linejoin="round"/>
<path d="M466.5,711.5 L472,713 L470.5,720.5 L465,718.5 Z" fill="#2b2b2b"/>
<path d="M472,715 L481,712 L497,718 L507,726 L507.5,733 L499,741 L490,738.5 L476,729 L471,722 Z" fill="#fff" stroke="#242424" stroke-width="1.7" stroke-linejoin="round" stroke-linecap="round" />
<circle cx="479" cy="718" r="1.7" fill="#fff" stroke="#2b2b2b" stroke-width="1"/>
<circle cx="486" cy="721" r="1.7" fill="#fff" stroke="#2b2b2b" stroke-width="1"/>
<circle cx="481.5" cy="725" r="1.7" fill="#fff" stroke="#2b2b2b" stroke-width="1"/>
<circle cx="489" cy="728" r="1.7" fill="#fff" stroke="#2b2b2b" stroke-width="1"/>
<circle cx="496" cy="725" r="1.7" fill="#fff" stroke="#2b2b2b" stroke-width="1"/>
<circle cx="498" cy="732" r="1.7" fill="#fff" stroke="#2b2b2b" stroke-width="1"/>
<circle cx="491.5" cy="734.5" r="1.7" fill="#fff" stroke="#2b2b2b" stroke-width="1"/>
<path d="M491,720 L498,723 L497,729 L490,726 Z" fill="#2b2b2b"/>
<path d="M502,824.4 V856.8" fill="none" stroke="#242424" stroke-width="1.4" stroke-linecap="round" stroke-linejoin="round" />
<path d="M502,856.8 L492.8,852" fill="none" stroke="#242424" stroke-width="1.2" stroke-linecap="round" stroke-linejoin="round" stroke-dasharray="3 2"/>
<path d="M500,806 L503,810 M499,811 L503,810" fill="none" stroke="#242424" stroke-width="1" stroke-linecap="round" stroke-linejoin="round" />
<path d="M466,838 L470.5,833.8 L478,834.5 L481,840 L479.5,848 L474,851 L468,848.5 Z" fill="#333"/>
<ellipse cx="474.5" cy="843" rx="3.3" ry="4.6" transform="rotate(-25 474.5 843)" fill="#888" stroke="#222" stroke-width="1"/>
<path d="M476.5,839.5 L490,845.5 L488.5,853 L475,847.5 Z" fill="#444" stroke="#222" stroke-width="1"/>
<ellipse cx="489.2" cy="849.3" rx="2.3" ry="3.8" transform="rotate(-20 489.2 849.3)" fill="#fff" stroke="#222" stroke-width="1.1"/>
<path d="M584.5,823.5 L591.5,819.5 L595.5,828 L588,832 Z" fill="#fff" stroke="#242424" stroke-width="1.7" stroke-linejoin="round" stroke-linecap="round" />
<path d="M578,829.5 L584.5,823.5 L588,832 L581,835.5 Z" fill="#fff" stroke="#242424" stroke-width="1.7" stroke-linejoin="round" stroke-linecap="round" />
<path d="M570.3,835.3 L578,830.5 L580.5,835.5 L572.5,840 Z" fill="#fff" stroke="#242424" stroke-width="1.7" stroke-linejoin="round" stroke-linecap="round" />
<ellipse cx="571.3" cy="837.7" rx="1.5" ry="2.5" transform="rotate(-28 571.3 837.7)" fill="#fff" stroke="#2b2b2b" stroke-width="1"/>
<path d="M574,656 C590,668 605,694 627,729" fill="none" stroke="#222" stroke-width="10.00" stroke-linecap="butt"/>
<path d="M574,656 C590,668 605,694 627,729" fill="none" stroke="#fff" stroke-width="8.33" stroke-linecap="butt"/>
<path d="M574,656 C590,668 605,694 627,729" fill="none" stroke="#222" stroke-width="6.67" stroke-linecap="butt"/>
<path d="M574,656 C590,668 605,694 627,729" fill="none" stroke="#fff" stroke-width="5.00" stroke-linecap="butt"/>
<path d="M574,656 C590,668 605,694 627,729" fill="none" stroke="#222" stroke-width="3.33" stroke-linecap="butt"/>
<path d="M574,656 C590,668 605,694 627,729" fill="none" stroke="#fff" stroke-width="1.67" stroke-linecap="butt"/>
<path d="M543.6,639.6 L558.8,629.2 L581.2,642.8 L581.2,654 L568.4,662.5 L568.4,674 L546,661.2 Z" fill="#fff" stroke="#242424" stroke-width="1.7" stroke-linejoin="round" stroke-linecap="round" />
<path d="M543.6,639.6 L566,653 L581.2,642.8 M566,653 L568.4,662.5 M545,649.5 L567,663 M557.5,635 L564,639 L560.5,641.5 L554,637.5 Z" fill="none" stroke="#242424" stroke-width="1.2" stroke-linecap="round" stroke-linejoin="round" />
<path d="M568,656 L581,647 L581.2,654 L568.4,662.5 Z" fill="#444"/>
<path d="M562,722 L589,716 L588,752 L579,763 L566,756 Z" fill="#666"/>
<path d="M565.5,723.6 L570.8,757.1 M568.5,722.9 L572.4,757.2 M571.5,722.1 L574.1,757.3 M574.5,721.4 L575.7,757.4 M577.5,720.6 L577.3,757.6 M580.5,719.9 L578.9,757.7 M583.5,719.1 L580.6,757.8 M586.5,718.4 L582.2,757.9 " fill="none" stroke="#242424" stroke-width="0.6" stroke-linecap="round" stroke-linejoin="round" />
<path d="M539.6,699.6 L546,693.2 L587.6,674 L593,676 L595.6,680.4 L596.4,712.4 L589,717 L589,723 L562,739 L541,733 Z" fill="#fff" stroke="#242424" stroke-width="1.7" stroke-linejoin="round" stroke-linecap="round" />
<path d="M539.6,699.6 L548,705 L595.6,680.4 M548,705 L548,735.5 M541,717 L548,721 L563,713.5 M563,698 L563,739 M563,713.5 L589,700.5 M589,683.5 L589,717 M566,714 L586,704 L586,714 L566,724 Z M544,708.5 V714 M544,724 V730" fill="none" stroke="#242424" stroke-width="1.1" stroke-linecap="round" stroke-linejoin="round" />
<path d="M546,693.2 L587.6,674 L591,675.5 L549.5,695.5 Z" fill="#444"/>
<path d="M548.0,692.8 L551.0,694.6 M550.9,691.4 L553.9,693.2 M553.8,690.1 L556.8,691.8 M556.8,688.7 L559.8,690.4 M559.7,687.3 L562.7,689.0 M562.6,686.0 L565.6,687.6 M565.6,684.6 L568.6,686.2 M568.5,683.2 L571.5,684.9 M571.5,681.8 L574.5,683.5 M574.4,680.5 L577.4,682.1 M577.3,679.1 L580.3,680.7 M580.3,677.7 L583.3,679.3 M583.2,676.4 L586.2,677.9 M586.1,675.0 L589.1,676.5 " fill="none" stroke="#242424" stroke-width="0.6" stroke-linecap="round" stroke-linejoin="round" />
<path d="M585.2,560 L592.2,551.8 L602.8,551.5 L612.6,560.2 L612,564.2 L604,566.6 L594,566.8 L585.4,561.6 Z" fill="none" stroke="#242424" stroke-width="4.4" stroke-linejoin="round"/>
<path d="M585.2,560 L592.2,551.8 L602.8,551.5 L612.6,560.2 L612,564.2 L604,566.6 L594,566.8 L585.4,561.6 Z" fill="none" stroke="#fff" stroke-width="1.5" stroke-linejoin="round"/>
<path d="M609,564.5 L619.5,571 M607.5,566.5 L618.5,573.5" fill="none" stroke="#242424" stroke-width="1.1" stroke-linecap="round" stroke-linejoin="round" />
<path d="M619.3,562 L633.8,552.2 L648.5,561.3 L648.5,580 L633.8,590.2 L619.3,580.8 Z" fill="#fff" stroke="#242424" stroke-width="1.7" stroke-linejoin="round" stroke-linecap="round" />
<path d="M633.8,569.8 L622.5,563.5 M633.8,569.8 L645,563.2 M633.8,569.8 V588" fill="none" stroke="#242424" stroke-width="1.2" stroke-linecap="round" stroke-linejoin="round" />
<path d="M625.5,633 L641.5,633 L637,664 L628.5,667 Z" fill="#3c3c3c"/>
<path d="M628.1,634.0 L630.0,664.8 M630.4,634.0 L631.1,664.5 M632.6,634.0 L632.2,664.2 M634.9,634.0 L633.3,663.8 M637.1,634.0 L634.4,663.5 M639.4,634.0 L635.5,663.2 " fill="none" stroke="#242424" stroke-width="0.6" stroke-linecap="round" stroke-linejoin="round" />
<path d="M622.7,601.2 L633.8,594.4 L645.7,601.2 L645.7,616.5 L643,621.6 L643,631.8 L633.8,637 L622.7,631.8 Z" fill="#fff" stroke="#242424" stroke-width="1.7" stroke-linejoin="round" stroke-linecap="round" />
<path d="M622.7,601.2 L633.8,608 L645.7,601.2 M633.8,608 V637 M622.7,619 L633.8,625 L643,621.6 M626,601.3 Q633.8,596.5 641.5,601.3 Q633.8,606.5 626,601.3 M628,623.5 V633.5 M639,624 V633" fill="none" stroke="#242424" stroke-width="1.1" stroke-linecap="round" stroke-linejoin="round" />
<path d="M628.5,667 C629,680 636,690 636,702 C636,712 631,719 626.5,726" fill="none" stroke="#242424" stroke-width="4.6" stroke-linecap="butt" stroke-linejoin="round"/>
<path d="M628.5,667 C629,680 636,690 636,702 C636,712 631,719 626.5,726" fill="none" stroke="#fff" stroke-width="2.3999999999999995" stroke-linecap="butt" stroke-linejoin="round"/>
<path d="M633,667 C634,680 641,690 641,702 C641,712 636,719 630.5,727" fill="none" stroke="#242424" stroke-width="4.6" stroke-linecap="butt" stroke-linejoin="round"/>
<path d="M633,667 C634,680 641,690 641,702 C641,712 636,719 630.5,727" fill="none" stroke="#fff" stroke-width="2.3999999999999995" stroke-linecap="butt" stroke-linejoin="round"/>
<path d="M625,664 L638,663 L637,670 L626,670 Z" fill="#2b2b2b"/>
<path d="M637,664.5 C650,672 662,680 676,690" fill="none" stroke="#222" stroke-width="6.50" stroke-linecap="butt"/>
<path d="M637,664.5 C650,672 662,680 676,690" fill="none" stroke="#fff" stroke-width="4.88" stroke-linecap="butt"/>
<path d="M637,664.5 C650,672 662,680 676,690" fill="none" stroke="#222" stroke-width="3.25" stroke-linecap="butt"/>
<path d="M637,664.5 C650,672 662,680 676,690" fill="none" stroke="#fff" stroke-width="1.62" stroke-linecap="butt"/>
<path d="M688,642 L701.5,644.5 L696,671.5 L684,668 Z" fill="#fff" stroke="#fff" stroke-width="0.1" stroke-linejoin="round" stroke-linecap="round" />
<path d="M690,641.8 L701.5,644.6 M684,668.3 L696,671.4" fill="none" stroke="#242424" stroke-width="1.5" stroke-linecap="round" stroke-linejoin="round" />
<ellipse cx="699.3" cy="657.8" rx="8" ry="13.6" transform="rotate(12 699.3 657.8)" fill="#fff" stroke="#242424" stroke-width="1.5"/>
<ellipse cx="685" cy="647" rx="10.6" ry="21.4" transform="rotate(12 685 647)" fill="#fff" stroke="#242424" stroke-width="1.5"/>
<path d="M672,624.3 L689.5,626.2 L680,668 L662.5,665.8 Z" fill="#fff" stroke="#fff" stroke-width="0.1" stroke-linejoin="round" stroke-linecap="round" />
<path d="M672.5,624.2 L689.6,626.2 M662.8,666 L680.3,668" fill="none" stroke="#242424" stroke-width="1.5" stroke-linecap="round" stroke-linejoin="round" />
<ellipse cx="667.3" cy="645.2" rx="10.6" ry="21.4" transform="rotate(12 667.3 645.2)" fill="#fff" stroke="#242424" stroke-width="1.5"/>
<path d="M671,659.5 L678.5,657.5 L681,667 L673.5,670 Z" fill="#fff" stroke="#242424" stroke-width="1.2" stroke-linejoin="round" stroke-linecap="round" />
<path d="M675,670 C667,676 664,688 667,700 C670,712 672,722 664,727 C656,730 644,724 632,725.5" fill="none" stroke="#242424" stroke-width="1.1" stroke-linecap="round" stroke-linejoin="round" />
<path d="M677,671 C669.5,677 666.5,688 669.5,700 C672.5,713 674.5,724 665,729 C656,732.5 644,726.5 632,728" fill="none" stroke="#242424" stroke-width="1.1" stroke-linecap="round" stroke-linejoin="round" />
<path d="M678,687.8 L703,702 L696,709.4 L672.6,695 Z" fill="#fff" stroke="#242424" stroke-width="1.7" stroke-linejoin="round" stroke-linecap="round" />
<ellipse cx="675.3" cy="691.4" rx="2.6" ry="4.4" transform="rotate(-35 675.3 691.4)" fill="#fff" stroke="#242424" stroke-width="1.1"/>
<path d="M694.2,707.6 L706.8,695.9 L714,696.5 L719.4,698.6 L725.7,705.8 L723,713 L710.4,721.1 L699.6,717.5 Z" fill="#fff" stroke="#242424" stroke-width="1.7" stroke-linejoin="round" stroke-linecap="round" />
<path d="M694.2,707.6 L707.5,714.5 L710.4,721.1 M707.5,714.5 L719.4,703 L725.7,705.8 M719.4,703 L719.4,698.6 M699.5,710.5 L699.8,714.5 M704,702 L711,705.5 L708.5,708 M712.5,700.5 L715.5,702" fill="none" stroke="#242424" stroke-width="1.1" stroke-linecap="round" stroke-linejoin="round" />
<path d="M599.0,736.7 L624.2,725.9 M599.5,737.3 L624.5,726.5 M600.0,738.0 L624.8,727.1 M600.4,738.6 L625.2,727.7 M600.9,739.2 L625.5,728.3 M601.4,739.8 L625.8,728.9 M601.8,740.4 L626.2,729.5 M602.3,741.1 L626.5,730.1 M602.8,741.7 L626.8,730.7 " fill="none" stroke="#242424" stroke-width="0.6" stroke-linecap="round" stroke-linejoin="round" />
<path d="M622,723 L631,721 L635.5,733 L627,737 Z" fill="#2b2b2b"/>
<ellipse cx="717.2" cy="613.2" rx="9.2" ry="14.6" transform="rotate(-27 717.2 613.2)" fill="none" stroke="#242424" stroke-width="3.8"/>
<ellipse cx="717.2" cy="613.2" rx="9.2" ry="14.6" transform="rotate(-27 717.2 613.2)" fill="none" stroke="#fff" stroke-width="1.3"/>
<path d="M727.5,622.5 C731,620 734,619 737,618 M729,624 C733,627 736,630 738.5,633" fill="none" stroke="#242424" stroke-width="3.4" stroke-linecap="round"/>
<circle cx="740.5" cy="616" r="3.6" fill="none" stroke="#242424" stroke-width="2.7"/>
<circle cx="740.3" cy="636" r="2.8" fill="none" stroke="#242424" stroke-width="2.7"/>
<path d="M727.5,622.5 C731,620 734,619 737,618 M729,624 C733,627 736,630 738.5,633" fill="none" stroke="#fff" stroke-width="1.1" stroke-linecap="round"/>
<circle cx="740.5" cy="616" r="3.6" fill="none" stroke="#fff" stroke-width="0.9"/>
<circle cx="740.3" cy="636" r="2.8" fill="none" stroke="#fff" stroke-width="0.9"/>
<path d="M783,563 C778,568 772,572 766,576" fill="none" stroke="#2b2b2b" stroke-width="7"/>
<path d="M783,563 C778,568 772,572 766,576" fill="none" stroke="#aaa" stroke-width="5.4" stroke-dasharray="0.8 1.2"/>
<path d="M786,563 C790,572 795,580 800,587" fill="none" stroke="#2b2b2b" stroke-width="7"/>
<path d="M786,563 C790,572 795,580 800,587" fill="none" stroke="#aaa" stroke-width="5.4" stroke-dasharray="0.8 1.2"/>
<path d="M758,577.5 L763.8,573.7 L778,580.4 L780.9,585 L780,606 L775,608 L760,598.4 Z" fill="#fff" stroke="#242424" stroke-width="1.7" stroke-linejoin="round" stroke-linecap="round" />
<path d="M758,577.5 L772.5,585 L780.9,585 M772.5,585 L772.5,606.5 M765,581.5 L765,601 M761,590 L765,592 M768,589 L771,590.5 L771,600 L768,598.5 Z" fill="none" stroke="#242424" stroke-width="1.1" stroke-linecap="round" stroke-linejoin="round" />
<path d="M783.7,596.5 L790.4,590.8 L795,585 L806.5,585 L812.2,592.7 L815,602.2 L814,613.6 L804.6,621.2 L793.2,619.3 L784.7,609.8 Z" fill="#fff" stroke="#242424" stroke-width="1.7" stroke-linejoin="round" stroke-linecap="round" />
<path d="M783.7,596.5 L793,602.5 L793.2,619.3 M793,602.5 L801,597.5 L812.2,592.7 M801,597.5 L801,612 L814,606 M790.4,590.8 L797,595 M797,587.5 L797,595 L803.5,591 L803.5,585.5 M788,603.5 L788,612.5 M805.5,611 L805,620" fill="none" stroke="#242424" stroke-width="1.1" stroke-linecap="round" stroke-linejoin="round" />
<path d="M783.2,671.3 L788.2,668.3 L797,674 L797,690 L793.7,693.3 L784.3,686.1 Z" fill="#fff" stroke="#242424" stroke-width="1.7" stroke-linejoin="round" stroke-linecap="round" />
<ellipse cx="790.9" cy="680" rx="2.9" ry="4.1" transform="rotate(-15 790.9 680)" fill="#fff" stroke="#242424" stroke-width="1.3"/>
<path d="M797,674 L800.3,668.5 L812.9,659.7 L827.2,667.4 L814,678.4 L800.3,670.8 Z" fill="#fff" stroke="#242424" stroke-width="1.7" stroke-linejoin="round" stroke-linecap="round" />
<path d="M800.3,668.5 L800.3,670.8" fill="none" stroke="#242424" stroke-width="1" stroke-linecap="round" stroke-linejoin="round" />
<ellipse cx="813.5" cy="668" rx="5.4" ry="3.6" fill="#fff" stroke="#242424" stroke-width="1.2"/><ellipse cx="813.5" cy="668.3" rx="3.2" ry="2" fill="#8a8a8a" stroke="#242424" stroke-width="0.8"/>
<path d="M800.8,691.6 L814,682.8 L818.4,683.9 L818.4,694.9 L801.9,704.8 Z" fill="#fff" stroke="#242424" stroke-width="1.7" stroke-linejoin="round" stroke-linecap="round" />
<path d="M797,690 L800.8,691.6" fill="none" stroke="#242424" stroke-width="1.3" stroke-linecap="round" stroke-linejoin="round" />
<path d="M806.3,689.4 L814,685 L814,694.9 L806.9,698.8 Z" fill="#fff" stroke="#242424" stroke-width="1.2" stroke-linejoin="round" stroke-linecap="round" />
<path d="M813.2,678.8 L818.4,679.5 L818.4,684 L814,682.8 Z" fill="#222"/>
<path d="M826,655.5 L835.5,651 L838,658.5 L829,663.5 Z" fill="#777" stroke="#222" stroke-width="1.1"/>
<path d="M829,654.2 L831.5,662 M832,652.8 L834.5,660.5" fill="none" stroke="#333" stroke-width="0.8" stroke-linecap="round" stroke-linejoin="round" />
<ellipse cx="827.5" cy="659.5" rx="2.3" ry="4.1" transform="rotate(-25 827.5 659.5)" fill="#fff" stroke="#222" stroke-width="1.1"/>
<path d="M833.5,648.5 L839,644 L846.5,645.3 L849.8,651.5 L848,659 L842,661.5 L836,658.5 Z" fill="#555" stroke="#222" stroke-width="1.2"/>
<ellipse cx="842.3" cy="652.5" rx="3.6" ry="5" transform="rotate(-20 842.3 652.5)" fill="#bbb" stroke="#222" stroke-width="1"/>
<path d="M644.5,469 L653.5,469 L653.5,487 L644.5,487 Z" fill="#555"/>
<path d="M645,472.5 H653 M645,475.5 H653 M645,478.5 H653 M645,481.5 H653 M645,484.5 H653" fill="none" stroke="#ddd" stroke-width="0.9" stroke-linecap="round" stroke-linejoin="round" />
<path d="M644.5,469 V487 M653.5,469 V487" fill="none" stroke="#242424" stroke-width="1" stroke-linecap="round" stroke-linejoin="round" />
<path d="M640,462 L643,457.5 L654,457.5 L657,462 L657.2,466.5 L653,470 L644,470 L639.8,466.5 Z" fill="#fff" stroke="#222" stroke-width="1.3"/>
<path d="M639.8,466.5 L644,470 L653,470 L657.2,466.5 L657,463.5 L653,466.5 L644,466.5 L640,463.5 Z" fill="#333"/>
<path d="M644,466.5 L643,461 M653,466.5 L654,461" fill="none" stroke="#242424" stroke-width="0.9" stroke-linecap="round" stroke-linejoin="round" />
<path d="M634.4,496.4 L644,488 L654.8,488.6 L671.6,498.8 L659.6,508.4 L653.6,509.6 L634.4,498.8 Z" fill="#fff" stroke="#242424" stroke-width="1.7" stroke-linejoin="round" stroke-linecap="round" />
<path d="M634.4,496.4 L653.6,507 L659.6,508.4 M653.6,507 L671.6,498.8" fill="none" stroke="#242424" stroke-width="1.1" stroke-linecap="round" stroke-linejoin="round" />
<ellipse cx="649.4" cy="495.8" rx="6.5" ry="3.5" fill="#fff" stroke="#242424" stroke-width="1.2"/><ellipse cx="649.4" cy="495.8" rx="3.6" ry="1.9" fill="#fff" stroke="#242424" stroke-width="1"/>
<path d="M655,509 C652.5,514 653,521 657,524.5 C660,526.5 664,526 667,523.5 L680,513.5 C683,510 683,504 680,500.5 C677.5,498 674,498 671.6,498.8 Z" fill="#fff" stroke="#242424" stroke-width="1.7" stroke-linejoin="round" stroke-linecap="round" />
<ellipse cx="659.8" cy="517" rx="5.2" ry="7.2" transform="rotate(25 659.8 517)" fill="#fff" stroke="#242424" stroke-width="1.2"/>
<path d="M664,505 C668.5,508 670.5,515 667.5,522.5 M669.5,501.5 C674,504.5 676,511.5 673,518.5 M675,499 C679.5,502 681,508.5 678,515" fill="none" stroke="#242424" stroke-width="1.2" stroke-linecap="round" stroke-linejoin="round" />
<path d="M762.9,763 L807,738 L853.8,766.1 L809.7,789.5 Z" fill="#fff" stroke="#242424" stroke-width="1.7" stroke-linejoin="round" stroke-linecap="round" />
<path d="M764.5,764 L808.6,739" fill="none" stroke="#242424" stroke-width="2.2" stroke-linecap="round" stroke-linejoin="round" />
<path d="M768.5,766.3 L812.5,741.3" fill="none" stroke="#242424" stroke-width="1" stroke-linecap="round" stroke-linejoin="round" />
<g transform="translate(0,0)">
<path d="M710.1,782.8 L712,778.3 L719.5,775.3 L721.8,776.8 L722.5,800 L717.3,803 L712,800.8 L710.1,792.5 Z" fill="#fff" stroke="#242424" stroke-width="1.7" stroke-linejoin="round" stroke-linecap="round" />
<path d="M712,778.3 L715.5,781 L715.5,802 M715.5,781 L721.8,776.8 M710.3,786.5 L715.5,789 L722,786 M710.3,791.5 L715.5,794.5 L722.3,791.5 M711,797 L715.5,799.5 L722.4,796.5" fill="none" stroke="#242424" stroke-width="1.1" stroke-linecap="round" stroke-linejoin="round" />
<path d="M735.3,789.5 L746.5,783.5 L752.5,788 L752.5,796.5 L761.5,792.5 L763.8,797 L763.8,803.7 L757,810.5 C753,813.5 748,814 745,812 C741.5,809.5 740,805 739.8,800 Z" fill="#fff" stroke="#242424" stroke-width="1.7" stroke-linejoin="round" stroke-linecap="round" />
<path d="M741,794.5 L752.5,788 M741,794.5 L741,801 M752.5,796.5 C749,798 747,801.5 747.5,805 C748,808 750.5,809.5 753.5,809 M752.5,796.5 L754,801 L763.8,797 M754,801 L754.5,808.5 L763.8,803.7" fill="none" stroke="#242424" stroke-width="1.1" stroke-linecap="round" stroke-linejoin="round" />
<path d="M719.1,771.1 L734.1,762.5 L745.8,771.1 L745.8,782.8 L735.3,789.5 L731.5,797 L721.8,791 Z" fill="#fff" stroke="#242424" stroke-width="1.7" stroke-linejoin="round" stroke-linecap="round" />
<path d="M719.1,771.1 L731.5,779 L745.8,771.1 M731.5,779 L731.5,797 M721.6,769.6 L735.8,763.9 M733.5,776.5 L742,771.8" fill="none" stroke="#242424" stroke-width="1.1" stroke-linecap="round" stroke-linejoin="round" />
<path d="M731.3,793 L739.5,790 L740,807.5 L732,808 Z" fill="#2b2b2b"/>
</g>
<g transform="translate(-82.7,47.4)">
<path d="M710.1,782.8 L712,778.3 L719.5,775.3 L721.8,776.8 L722.5,800 L717.3,803 L712,800.8 L710.1,792.5 Z" fill="#fff" stroke="#242424" stroke-width="1.7" stroke-linejoin="round" stroke-linecap="round" />
<path d="M712,778.3 L715.5,781 L715.5,802 M715.5,781 L721.8,776.8 M710.3,786.5 L715.5,789 L722,786 M710.3,791.5 L715.5,794.5 L722.3,791.5 M711,797 L715.5,799.5 L722.4,796.5" fill="none" stroke="#242424" stroke-width="1.1" stroke-linecap="round" stroke-linejoin="round" />
<path d="M735.2,790.6 L748.7,784.6 L764.4,796.6 L765.2,808.6 L754.7,816.8 L742.7,808.6 L735.2,802.6 Z" fill="#fff" stroke="#242424" stroke-width="1.7" stroke-linejoin="round" stroke-linecap="round" />
<path d="M741,794.5 L752.5,788 M745,800 L757,794 L764.4,796.6 M757,794 L757.5,803 L750,808.5 M757.5,803 L765,806.5 M754.7,816.8 L754.7,810.5 L742.7,802.5" fill="none" stroke="#242424" stroke-width="1.1" stroke-linecap="round" stroke-linejoin="round" />
<path d="M719.1,771.1 L734.1,762.5 L745.8,771.1 L745.8,782.8 L735.3,789.5 L731.5,797 L721.8,791 Z" fill="#fff" stroke="#242424" stroke-width="1.7" stroke-linejoin="round" stroke-linecap="round" />
<path d="M719.1,771.1 L731.5,779 L745.8,771.1 M731.5,779 L731.5,797 M721.6,769.6 L735.8,763.9 M733.5,776.5 L742,771.8" fill="none" stroke="#242424" stroke-width="1.1" stroke-linecap="round" stroke-linejoin="round" />
<path d="M731.3,793 L739.5,790 L740,807.5 L732,808 Z" fill="#2b2b2b"/>
</g>
<path d="M346.7,108 V150 C346.5,172 340,192 325,210 C316,221 305,228 293,233" fill="none" stroke="#242424" stroke-width="8" stroke-linecap="butt" stroke-linejoin="round"/>
<path d="M346.7,108 V150 C346.5,172 340,192 325,210 C316,221 305,228 293,233" fill="none" stroke="#fff" stroke-width="4.5" stroke-linecap="butt" stroke-linejoin="round"/>
<path d="M342.7,148.7 H350.7" fill="none" stroke="#242424" stroke-width="1" stroke-linecap="round" stroke-linejoin="round" />
<path d="M343.3,97 L349.5,88.5 L353.2,92 L351.3,110 L343.3,110 Z" fill="#fff" stroke="#242424" stroke-width="1.7" stroke-linejoin="round" stroke-linecap="round" />
<path d="M346,97 L349,110" fill="none" stroke="#242424" stroke-width="0.9" stroke-linecap="round" stroke-linejoin="round" />
<g transform="rotate(0 361.4 95.3)"><ellipse cx="361.4" cy="95.3" rx="10.6" ry="6.9" fill="#fff" stroke="#242424" stroke-width="1.5"/><ellipse cx="361.4" cy="95.3" rx="4.45" ry="2.90" fill="#fff" stroke="#242424" stroke-width="1.1"/></g>
<path d="M298,241 C312,236 326,231 340,226.5" fill="none" stroke="#242424" stroke-width="7" stroke-linecap="butt" stroke-linejoin="round"/>
<path d="M298,241 C312,236 326,231 340,226.5" fill="none" stroke="#fff" stroke-width="3.5" stroke-linecap="butt" stroke-linejoin="round"/>
<path d="M336,220.5 L356,213 L361,224 L338,231.5 Z" fill="#fff" stroke="#242424" stroke-width="1.7" stroke-linejoin="round" stroke-linecap="round" />
<ellipse cx="337" cy="226" rx="2.6" ry="5.6" transform="rotate(-20 337 226)" fill="#fff" stroke="#242424" stroke-width="1.2"/>
<path d="M354.5,203 V222 A15.5,9 0 0 0 385.5,222 V203" fill="#fff" stroke="#242424" stroke-width="1.7" stroke-linejoin="round" stroke-linecap="round" />
<ellipse cx="370" cy="203" rx="15.5" ry="9" fill="#fff" stroke="#242424" stroke-width="1.3"/>
<ellipse cx="370" cy="205" rx="10.5" ry="5.8" fill="#fff" stroke="#242424" stroke-width="1.1"/>
<path d="M361,208 A10,5 0 0 0 379,208" fill="none" stroke="#242424" stroke-width="0.9" stroke-linecap="round" stroke-linejoin="round" />
<path d="M291,238.5 C278,245 265.5,258 261.5,273 C260.8,278 260.7,283 260.7,288.5" fill="none" stroke="#242424" stroke-width="20.5" stroke-linecap="butt" stroke-linejoin="round"/>
<path d="M291,238.5 C278,245 265.5,258 261.5,273 C260.8,278 260.7,283 260.7,288.5" fill="none" stroke="#fff" stroke-width="17.0" stroke-linecap="butt" stroke-linejoin="round"/>
<path d="M272,243 L288,231.5 L299,236 L297.5,247 L286,252 Z" fill="#fff" stroke="#242424" stroke-width="1.7" stroke-linejoin="round" stroke-linecap="round" />
<path d="M274.7,242.5 L288.6,232.8 M276.2,243.6 L289.8,233.4 M277.6,244.6 L290.9,234.0 M279.1,245.7 L292.1,234.6 M280.5,246.8 L293.2,235.2 M281.9,247.8 L294.4,235.9 M283.4,248.9 L295.6,236.5 M284.8,249.9 L296.8,237.1 M286.3,251.0 L297.9,237.7 " fill="none" stroke="#242424" stroke-width="0.8" stroke-linecap="round" stroke-linejoin="round" />
<path d="M250,287 L256,289.5 L259,286.5 L262,290 L271.5,287.5 L271.5,292 L250,292 Z" fill="#fff" stroke="#fff" stroke-width="0.1" stroke-linejoin="round" stroke-linecap="round" />
<path d="M250.6,287.2 L256,289.6 L259,286.6 L262,290 L271,287.2" fill="none" stroke="#242424" stroke-width="1.2" stroke-linecap="round" stroke-linejoin="round" />
<path d="M251,293.5 Q251,291.5 253,291.5 H269 Q270.9,291.5 270.9,293.5 V360 H251 Z" fill="#fff" stroke="#242424" stroke-width="1.7" stroke-linejoin="round" stroke-linecap="round" />
<path d="M251,293.5 L256,295 L259,292.5 L262,295.5 L270.9,293.5" fill="none" stroke="#242424" stroke-width="1" stroke-linecap="round" stroke-linejoin="round" />
<path d="M264.1,334.7 L270.9,334.7 M262.3,338.1 L270.9,338.1 M260.5,341.6 L270.9,341.6 M258.8,345.0 L270.9,345.0 M257.0,348.4 L270.9,348.4 M255.2,351.9 L270.9,351.9 M253.4,355.3 L270.9,355.3 " fill="none" stroke="#242424" stroke-width="0.9" stroke-linecap="round" stroke-linejoin="round" />
<path d="M251,356 Q261,360.5 270.9,356 M251,358.5 Q261,363 270.9,358.5" fill="none" stroke="#242424" stroke-width="1" stroke-linecap="round" stroke-linejoin="round" />
<path d="M266.5,361 C266.5,380 266,398 261.5,414 C258,425 252,434 244,440.5 C236,447 226,453 208,462" fill="none" stroke="#242424" stroke-width="7.2" stroke-linecap="butt" stroke-linejoin="round"/>
<path d="M266.5,361 C266.5,380 266,398 261.5,414 C258,425 252,434 244,440.5 C236,447 226,453 208,462" fill="none" stroke="#fff" stroke-width="3.7" stroke-linecap="butt" stroke-linejoin="round"/>
<path d="M256,361 C256,378 253,392 248,404 C242,418 230,428 214,436 L190,448.5" fill="none" stroke="#242424" stroke-width="7.2" stroke-linecap="butt" stroke-linejoin="round"/>
<path d="M256,361 C256,378 253,392 248,404 C242,418 230,428 214,436 L190,448.5" fill="none" stroke="#fff" stroke-width="3.7" stroke-linecap="butt" stroke-linejoin="round"/>
<path d="M251,360.5 Q261,365 270.9,360.5" fill="none" stroke="#242424" stroke-width="1.3" stroke-linecap="round" stroke-linejoin="round" />
<path d="M215.6,431.8 L218.8,437.8 M234.2,442.6 L237.4,448.6" fill="none" stroke="#242424" stroke-width="1.3" stroke-linecap="round" stroke-linejoin="round" />
<path d="M187.5,446 L195.5,442.2 L198.5,449 L190.5,453 Z" fill="#fff" stroke="#242424" stroke-width="1.7" stroke-linejoin="round" stroke-linecap="round" />
<path d="M191,446.5 L193,450.5" fill="none" stroke="#242424" stroke-width="1.8" stroke-linecap="round" stroke-linejoin="round" />
<g transform="rotate(-8 179.8 455.6)"><ellipse cx="179.8" cy="455.6" rx="10.3" ry="6.7" fill="#fff" stroke="#242424" stroke-width="1.6"/><ellipse cx="179.3" cy="455.6" rx="5.6" ry="3.3" fill="#fff" stroke="#242424" stroke-width="1.3"/><ellipse cx="179.8" cy="455.6" rx="2.8" ry="1.3" fill="#fff" stroke="#242424" stroke-width="1"/></g>
<path d="M206,458 L214,454.2 L217,461 L209,465 Z" fill="#fff" stroke="#242424" stroke-width="1.7" stroke-linejoin="round" stroke-linecap="round" />
<path d="M209.5,458.5 L211.5,462.5" fill="none" stroke="#242424" stroke-width="1.8" stroke-linecap="round" stroke-linejoin="round" />
<g transform="rotate(-8 198.4 466.6)"><ellipse cx="198.4" cy="466.6" rx="10.3" ry="6.7" fill="#fff" stroke="#242424" stroke-width="1.6"/><ellipse cx="197.9" cy="466.6" rx="5.6" ry="3.3" fill="#fff" stroke="#242424" stroke-width="1.3"/><ellipse cx="198.4" cy="466.6" rx="2.8" ry="1.3" fill="#fff" stroke="#242424" stroke-width="1"/></g>
<path d="M737,207 L747.6,207 L747.2,350 L744.5,361.5 L741.8,361.5 L739.2,350 Z" fill="#fff" stroke="#242424" stroke-width="1.7" stroke-linejoin="round" stroke-linecap="round" />
<path d="M744.3,210 V226" fill="none" stroke="#242424" stroke-width="1" stroke-linecap="round" stroke-linejoin="round" />
<path d="M731,197.5 L738.5,193 L747,196.5 L747.6,207.5 L738,210 L731,206.5 Z" fill="#fff" stroke="#242424" stroke-width="1.7" stroke-linejoin="round" stroke-linecap="round" />
<path d="M731,197.5 L739,201 L747,196.5 M739,201 L738.4,209.5" fill="none" stroke="#242424" stroke-width="1" stroke-linecap="round" stroke-linejoin="round" />
<path d="M734,200.5 L736.5,206.5" fill="none" stroke="#242424" stroke-width="1" stroke-linecap="round" stroke-linejoin="round" />
<path d="M416.2,291.6 L424.6,281 L449,270.5 L452.2,281 L436,296 L431.5,305 L424.6,302.4 Z" fill="#fff" stroke="#242424" stroke-width="1.7" stroke-linejoin="round" stroke-linecap="round" />
<path d="M419,289.5 L428,295 M428,295 L432,290.5 L448,283.5 M424,283.5 L429,286 L427.5,291.5" fill="none" stroke="#242424" stroke-width="1" stroke-linecap="round" stroke-linejoin="round" />
<circle cx="431.2" cy="298.8" r="2.4" fill="#fff" stroke="#242424" stroke-width="1.1"/>
<path d="M422.5,289.5 L428.5,287.5 L430,291 L424,293.5 Z" fill="#222"/>
<path d="M415,255.6 C405,256 396,260 393,267 C390.5,274 397,279.5 407,280.8 C414,281.5 420,278 426,275 L448.6,269.4 L442.6,261 L438.5,261.2 L423.4,265.8 Z" fill="#fff" stroke="#242424" stroke-width="1.7" stroke-linejoin="round" stroke-linecap="round" />
<path d="M423.4,265.8 C418,268 408,270 406,268.5 M415,255.6 L409,259" fill="none" stroke="#242424" stroke-width="1" stroke-linecap="round" stroke-linejoin="round" />
<ellipse cx="412" cy="262.5" rx="2.6" ry="2" fill="#fff" stroke="#242424" stroke-width="1"/>
<path d="M407.5,268.7 L416,266" fill="none" stroke="#242424" stroke-width="1.6" stroke-linecap="round" stroke-linejoin="round" />
<path d="M449.5,298 L462.5,307 L460,312 L447.5,304 Z" fill="#2a2a2a"/>
<path d="M451,297.6 L449,303.6 M454,299.6 L452,305.6 M457,301.7 L455,307.7 M460,303.8 L458,309.8" fill="none" stroke="#bbb" stroke-width="0.7" stroke-linecap="round" stroke-linejoin="round" />
<ellipse cx="446.2" cy="301" rx="3.6" ry="5.2" transform="rotate(25 446.2 301)" fill="#fff" stroke="#242424" stroke-width="1.3"/>
<ellipse cx="446.8" cy="301.2" rx="1.8" ry="2.8" transform="rotate(25 446.8 301.2)" fill="#fff" stroke="#242424" stroke-width="1"/>
<path d="M454,255.6 L458,252.5 L469,251.4 L473.5,253.5 L484.6,252 L487.6,255.6 L488.2,279.6 L485,282 L481,288 L475,292.8 L477.4,304.8 L479.8,307.2 L479.8,326.4 L467.8,336 L459.4,334.8 L450.4,328.8 L449.8,318 L453.5,316.8 L464.2,322.8 L463,290.4 L458.2,285.6 L458.2,279.6 L461.8,274.8 L461.8,262.8 L457,260.4 Z" fill="#fff" stroke="#242424" stroke-width="1.7" stroke-linejoin="round" stroke-linecap="round" />
<path d="M469,251.4 L466.5,258 L472,262 L483.5,256.5 L484.6,252 M472,262 L472.5,268 L478,266 M461.8,262.8 L466.5,258 M483.5,256.5 L484,268 L487.5,266" fill="none" stroke="#242424" stroke-width="1" stroke-linecap="round" stroke-linejoin="round" />
<path d="M466,290.5 L467.2,324 M464.2,322.8 L467.2,324.5 L477,317.5 M450.4,322.5 L460,329 L459.4,334.8 M460,329 L468,325" fill="none" stroke="#242424" stroke-width="1" stroke-linecap="round" stroke-linejoin="round" />
<path d="M484,256.5 L486.8,256 L487,268 L484.4,268.5 Z" fill="#333"/>
<circle cx="469" cy="282" r="4.6" fill="#fff" stroke="#242424" stroke-width="1.2"/><circle cx="469" cy="282" r="2.2" fill="#fff" stroke="#242424" stroke-width="1.1"/>
<circle cx="473.2" cy="315.6" r="3" fill="#fff" stroke="#242424" stroke-width="1.1"/>
<path d="M470,305.5 L476.5,303.5 L479.5,307 M470,305.5 L470,321" fill="none" stroke="#242424" stroke-width="1" stroke-linecap="round" stroke-linejoin="round" />
</g>
<g filter="url(#soft2)">
<text x="159.3" y="27.6" font-family="Liberation Sans, sans-serif" font-size="31" fill="#3a3a3a" stroke="#3a3a3a" stroke-width="0.45" textLength="129.5" lengthAdjust="spacingAndGlyphs">FIG.322C</text>
<g opacity="0.84">
<text x="0" y="0" transform="translate(265.5,496.8) scale(0.70,1)" font-family="Liberation Serif, serif" font-weight="bold" font-size="83" fill="#e8774e">H</text>
<text x="313.5" y="495.2" font-family="Liberation Sans, sans-serif" font-weight="bold" font-size="37.5" fill="#56619a" textLength="150.5" lengthAdjust="spacingAndGlyphs">augaland</text>
<text x="0" y="0" transform="translate(495.5,494.5) scale(0.84,1)" font-family="Liberation Serif, serif" font-weight="bold" font-size="57" fill="#56619a">B</text>
<text x="530.5" y="495" font-family="Liberation Sans, sans-serif" font-weight="bold" font-size="30" fill="#56619a">å</text>
<text x="0" y="0" transform="translate(587.5,495.5) scale(1.0,1)" font-family="Liberation Serif, serif" font-weight="bold" font-size="60" fill="#56619a">S</text>
<text x="623" y="495.2" font-family="Liberation Sans, sans-serif" font-weight="bold" font-size="37.5" fill="#56619a" textLength="91" lengthAdjust="spacingAndGlyphs">enter</text>
<text x="721.3" y="496.5" font-family="Liberation Sans, sans-serif" font-size="11" fill="#4f5b96" stroke="#4f5b96" stroke-width="0.3">AS</text>
</g>
<text x="0" y="0" transform="translate(268.5,497.8) scale(0.70,1)" font-family="Liberation Serif, serif" font-weight="bold" font-size="83" fill="none" stroke="#f3b79f" stroke-width="0.9" opacity="0.9">H</text>
<text x="0" y="0" transform="translate(497.5,494.5) scale(0.80,1)" font-family="Liberation Serif, serif" font-size="57" fill="none" stroke="#fff" stroke-width="0.8" opacity="0.75">B</text>
<text x="0" y="0" transform="translate(589.5,495.5) scale(0.95,1)" font-family="Liberation Serif, serif" font-size="60" fill="none" stroke="#fff" stroke-width="0.8" opacity="0.75">S</text>
<g fill="none" stroke="#9c9c9c" stroke-linecap="round" stroke-linejoin="round">
<path d="M572.6,421.5 L580.6,422.3 L564.8,486 L560.4,485.4 Z" fill="#9c9c9c" stroke-width="1"/>
<path d="M574.5,417.5 L579,418.5 L578,423 L574,422 Z" fill="#9c9c9c" stroke-width="1"/>
<circle cx="561" cy="492.3" r="5.2" stroke-width="3.8"/>
<path d="M549.5,480.6 L581.5,483.6" stroke-width="3"/>
<circle cx="549.3" cy="480.6" r="2" fill="#9c9c9c" stroke="none"/><circle cx="581.8" cy="483.6" r="2" fill="#9c9c9c" stroke="none"/>
<path d="M538.5,433.5 Q574,409.5 607,440.5" stroke-width="5.4"/>
<path d="M532,427 L535.2,440.5 L549,435 L541,433.5 Z" fill="#9c9c9c" stroke-width="1.2"/>
<path d="M606.5,431.5 L613,448.5 L598.5,447 L606,441.5 Z" fill="#9c9c9c" stroke-width="1.2"/>
</g>
<path d="M560,502 C552,510 542,516 528,516.5 C512,517 497,512 482,506 C470,501 452,500 437,504 C420,509 405,521 385,523.5 C365,525.5 345,517 328,512 C314,508.7 303,508.8 294,510.2 M272.5,515.3 L266.5,517.5" fill="none" stroke="#4a4a4a" stroke-width="3.1" stroke-dasharray="2 3" stroke-linecap="round"/>
<path d="M560,502 C552,510 542,516 528,516.5 C512,517 497,512 482,506 C470,501 452,500 437,504 C420,509 405,521 385,523.5 C365,525.5 345,517 328,512 C314,508.7 303,508.8 294,510.2 M272.5,515.3 L266.5,517.5" fill="none" stroke="#fff" stroke-width="1.5" stroke-dasharray="2 3" stroke-linecap="round"/>
<ellipse cx="731.5" cy="815" rx="46" ry="63.8" transform="rotate(-14 731.5 815)" fill="none" stroke="#c4000d" stroke-width="3"/>
<path class="lb" transform="translate(260.69,214) scale(1.000)" d="M5.95,0 L5.95,-11.1 L4.05,-11.1 C3.6,-9.6 2.5,-8.75 0.95,-8.6 L0.95,-6.85 L3.45,-6.85 L3.45,0 Z"/>
<path d="M265,218 V245" fill="none" stroke="#5c5c5c" stroke-width="2.1"/>
<text x="427.69" y="238" class="lb" font-size="15.5">9</text>
<path d="M432,243 V262" fill="none" stroke="#5c5c5c" stroke-width="2.1"/>
<path class="lb" transform="translate(471.38,228) scale(1.000)" d="M5.95,0 L5.95,-11.1 L4.05,-11.1 C3.6,-9.6 2.5,-8.75 0.95,-8.6 L0.95,-6.85 L3.45,-6.85 L3.45,0 Z"/>
<text x="480.00" y="228" class="lb" font-size="15.5">7</text>
<path d="M480,233 V254" fill="none" stroke="#5c5c5c" stroke-width="2.1"/>
<path class="lb" transform="translate(424.38,350) scale(1.000)" d="M5.95,0 L5.95,-11.1 L4.05,-11.1 C3.6,-9.6 2.5,-8.75 0.95,-8.6 L0.95,-6.85 L3.45,-6.85 L3.45,0 Z"/>
<text x="433.00" y="350" class="lb" font-size="15.5">8</text>
<path d="M433,336 V322 L444,306" fill="none" stroke="#5c5c5c" stroke-width="2.1"/>
<text x="275.38" y="410" class="lb" font-size="15.5">2</text>
<text x="284.00" y="410" class="lb" font-size="15.5">0</text>
<path d="M283,415 V478" fill="none" stroke="#5c5c5c" stroke-width="2.1"/>
<text x="724.3" y="159.5" class="lb" font-size="15.5">6</text><text x="737.2" y="159" class="lb" font-size="15.5" text-anchor="middle">·</text>
<path class="lb" transform="translate(741.80,159.5) scale(1.032)" d="M5.95,0 L5.95,-11.1 L4.05,-11.1 C3.6,-9.6 2.5,-8.75 0.95,-8.6 L0.95,-6.85 L3.45,-6.85 L3.45,0 Z"/>
<text x="750.70" y="159.5" class="lb" font-size="16">9</text>
<path d="M738.5,163 V192" fill="none" stroke="#5c5c5c" stroke-width="2.1"/>
<path class="lb" transform="translate(684.98,470.8) scale(1.000)" d="M5.95,0 L5.95,-11.1 L4.05,-11.1 C3.6,-9.6 2.5,-8.75 0.95,-8.6 L0.95,-6.85 L3.45,-6.85 L3.45,0 Z"/>
<text x="693.60" y="470.8" class="lb" font-size="15.5">5</text>
<path d="M657.2,465.4 H681.2" fill="none" stroke="#5c5c5c" stroke-width="2.1"/>
<path class="lb" transform="translate(708.58,516.6) scale(1.000)" d="M5.95,0 L5.95,-11.1 L4.05,-11.1 C3.6,-9.6 2.5,-8.75 0.95,-8.6 L0.95,-6.85 L3.45,-6.85 L3.45,0 Z"/>
<path class="lb" transform="translate(717.20,516.6) scale(1.000)" d="M5.95,0 L5.95,-11.1 L4.05,-11.1 C3.6,-9.6 2.5,-8.75 0.95,-8.6 L0.95,-6.85 L3.45,-6.85 L3.45,0 Z"/>
<path d="M682.4,511.4 H705.2" fill="none" stroke="#5c5c5c" stroke-width="2.1"/>
<text x="554.69" y="526.5" class="lb" font-size="15.5">2</text>
<path d="M558.3,531 V544.8" fill="none" stroke="#5c5c5c" stroke-width="2.1"/>
<path d="M437.3,614.4 V590.4 M437.3,572.8 V544.8 H681.4 V574 M681.4,594.4 V625 M459.5,626.4 V590.4 M459.5,572.8 V544.8 M536.6,544.8 V766" fill="none" stroke="#484848" stroke-width="1.8"/>
<text x="432.69" y="587" class="lb" font-size="15.5">3</text>
<text x="455.69" y="587" class="lb" font-size="15.5">4</text>
<text x="560.69" y="571" class="lb" font-size="15.5">8</text>
<path d="M573,566 H590" fill="none" stroke="#5c5c5c" stroke-width="2.1"/>
<text x="676.69" y="593" class="lb" font-size="15.5">5</text>
<path class="lb" transform="translate(710.38,572) scale(1.000)" d="M5.95,0 L5.95,-11.1 L4.05,-11.1 C3.6,-9.6 2.5,-8.75 0.95,-8.6 L0.95,-6.85 L3.45,-6.85 L3.45,0 Z"/>
<text x="719.00" y="572" class="lb" font-size="15.5">2</text>
<path d="M719,577 V600" fill="none" stroke="#5c5c5c" stroke-width="2.1"/>
<path class="lb" transform="translate(834.38,697) scale(1.000)" d="M5.95,0 L5.95,-11.1 L4.05,-11.1 C3.6,-9.6 2.5,-8.75 0.95,-8.6 L0.95,-6.85 L3.45,-6.85 L3.45,0 Z"/>
<text x="843.00" y="697" class="lb" font-size="15.5">5</text>
<path d="M843,660 V683" fill="none" stroke="#5c5c5c" stroke-width="2.1"/>
<path class="lb" transform="translate(805.38,728) scale(1.000)" d="M5.95,0 L5.95,-11.1 L4.05,-11.1 C3.6,-9.6 2.5,-8.75 0.95,-8.6 L0.95,-6.85 L3.45,-6.85 L3.45,0 Z"/>
<text x="814.00" y="728" class="lb" font-size="15.5">0</text>
<path d="M814,695 V713" fill="none" stroke="#5c5c5c" stroke-width="2.1"/>
<text x="805.69" y="829" class="lb" font-size="15.5">7</text>
<path d="M810.2,789 V813.5" fill="none" stroke="#5c5c5c" stroke-width="2.1"/>
<path class="lb" transform="translate(726.38,845) scale(1.000)" d="M5.95,0 L5.95,-11.1 L4.05,-11.1 C3.6,-9.6 2.5,-8.75 0.95,-8.6 L0.95,-6.85 L3.45,-6.85 L3.45,0 Z"/>
<text x="735.00" y="845" class="lb" font-size="15.5">3</text>
<path d="M735,805 V830" fill="none" stroke="#5c5c5c" stroke-width="2.1"/>
<path class="lb" transform="translate(644.38,893) scale(1.000)" d="M5.95,0 L5.95,-11.1 L4.05,-11.1 C3.6,-9.6 2.5,-8.75 0.95,-8.6 L0.95,-6.85 L3.45,-6.85 L3.45,0 Z"/>
<text x="653.00" y="893" class="lb" font-size="15.5">4</text>
<path d="M652.5,852 V878.5" fill="none" stroke="#5c5c5c" stroke-width="2.1"/>
<path class="lb" transform="translate(465.38,887) scale(1.000)" d="M5.95,0 L5.95,-11.1 L4.05,-11.1 C3.6,-9.6 2.5,-8.75 0.95,-8.6 L0.95,-6.85 L3.45,-6.85 L3.45,0 Z"/>
<text x="474.00" y="887" class="lb" font-size="15.5">6</text>
<path d="M475,852 V874" fill="none" stroke="#5c5c5c" stroke-width="2.1"/>
</g>
<path d="M363.8,920 L402.8,947.2 L402.8,974.9 Q381.2,984.3 363.8,1000 L325,972.5 L325,944.6 Q346.6,935.7 363.8,920 Z" fill="#e20a17"/>
<path d="M402.8,947.2 C395,951.5 388,953.8 382,953.6 C378,953.4 375.5,952 373,950.3 L354.2,937 L351,938.9 L402.8,974.9 L410,975 L410,947 Z" fill="#fff"/>
<path d="M325,972.8 C332.8,968.5 339.8,966.2 345.8,966.4 C349.8,966.6 352.3,968 354.8,969.7 L373.6,983 L376.8,981.1 L325,945.1 L318,945 L318,973 Z" fill="#fff"/>
<path d="M476,950.5 C476,940 466,935.5 449,935.5 C432,935.5 421,940.5 421,950 C421,959 428,962 442,964 L453,965.7 C457.5,966.4 459,967.5 459,969.5 C459,972.5 455.5,974 450,974 C443.5,974 440,972 439.5,968 L421,968 C421.5,979.5 431,984.5 449.5,984.5 C468,984.5 478,979 478,968.5 C478,959.5 471,956 458,954 L446,952.2 C441.5,951.5 440,950.5 440,948.8 C440,946.5 443,945.5 448,945.5 C454,945.5 457.5,947 458,950.5 Z" fill="#003399"/>
<path d="M481.8,937 H498.8 V965 C498.8,971.5 502.3,974 509.0,974 C515.8,974 519.1,971.5 519.1,965 V937 H536.2 V966 C536.2,979.5 526.8,985 509.0,985 C491.3,985 481.8,979.5 481.8,966 Z" fill="#003399"/>
<path d="M539,937 H593 V945.5 L567.5,971 H593 V982.5 H539 V973 L564,948 H539 Z" fill="#003399"/>
<path d="M595.9,937 H612.9 V965 C612.9,971.5 616.4,974 623.1,974 C629.9,974 633.1999999999999,971.5 633.1999999999999,965 V937 H650.3 V966 C650.3,979.5 640.9,985 623.1,985 C605.4,985 595.9,979.5 595.9,966 Z" fill="#003399"/>
<path d="M656,937 H673.2 V953 L691,937 H714.5 L688.5,958.5 L714.5,982.5 H691 L673.2,964.5 V982.5 H656 Z" fill="#003399"/>
<path d="M719,937 H736 V982.5 H719 Z" fill="#003399"/>
<path d="M182.5,966 L199,939.8 L203.5,944 L234.3,925.1 L237.3,927.4 L237.3,949.9 L203.9,968.6 L202,975.8 Z" fill="#1d1d1d"/>
<path d="M186,962.5 L199.3,941.8 M205,944.6 L234.5,927" fill="none" stroke="#fff" stroke-width="0.9" stroke-dasharray="1.2 1.1"/>
<text transform="matrix(0.70,-0.39,0,1,202.3,967)" font-family="Liberation Sans, sans-serif" font-size="21" fill="none" stroke="#fff" stroke-width="1.1">FWD</text>
</svg>
</body></html>
